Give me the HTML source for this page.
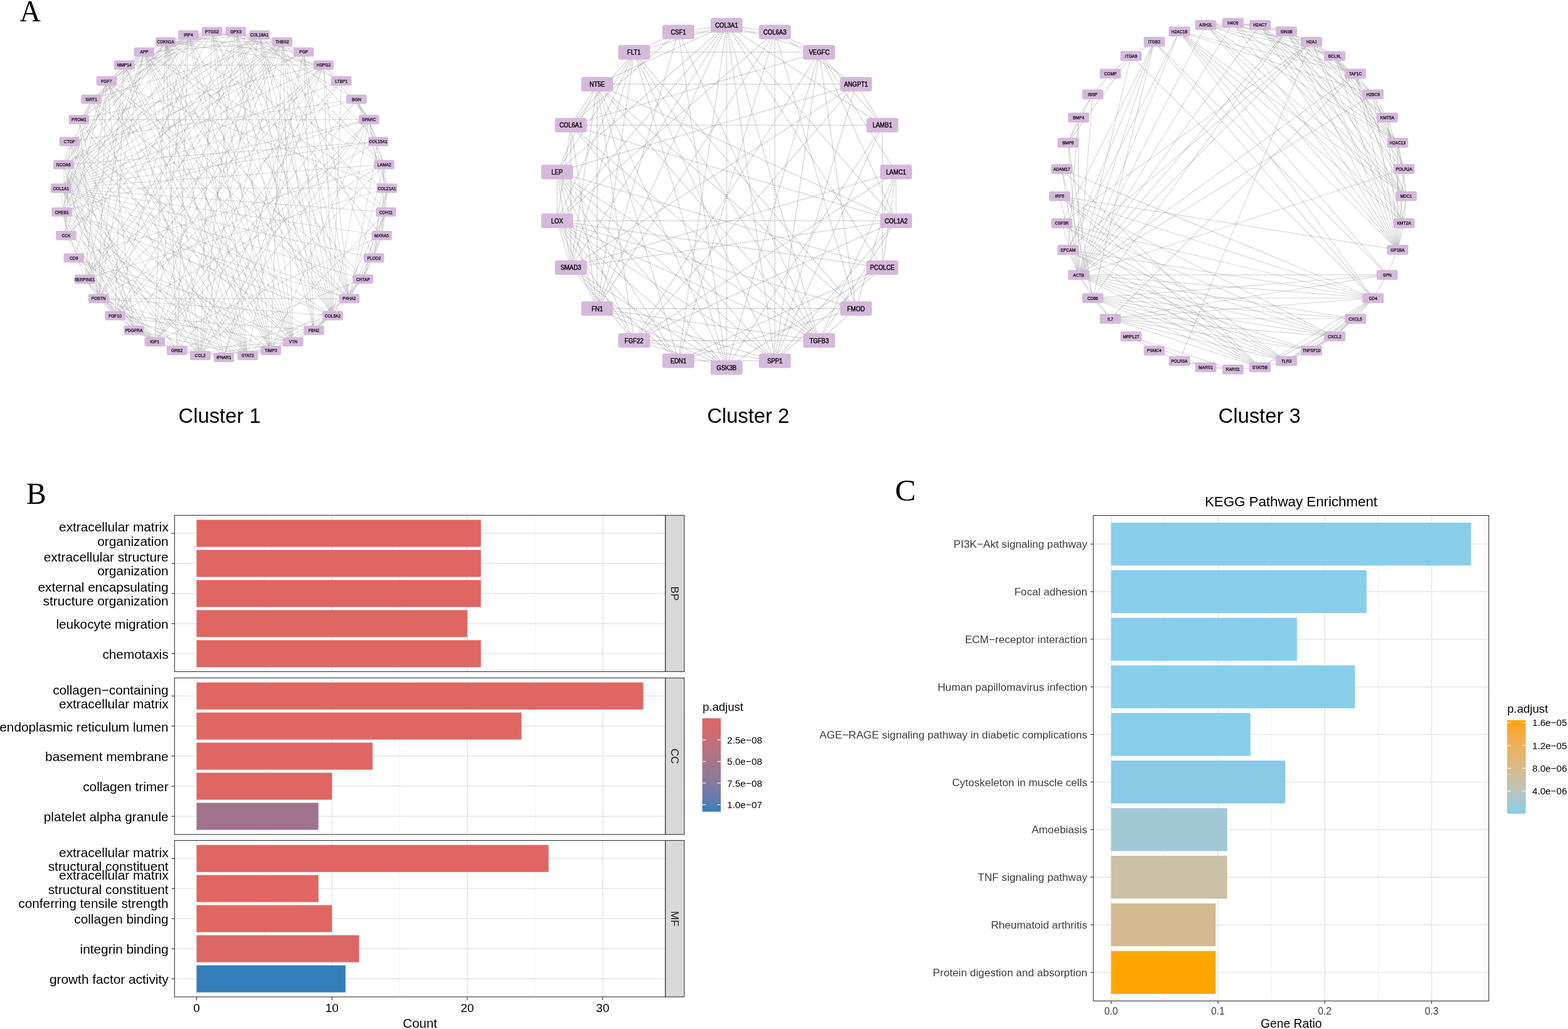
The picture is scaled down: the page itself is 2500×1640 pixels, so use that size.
<!DOCTYPE html><html><head><meta charset="utf-8"><title>Figure</title>
<style>html,body{margin:0;padding:0;background:#fff;}svg{display:block;}.s{font-family:"Liberation Sans",Arial,Helvetica,sans-serif;}.r{font-family:"Liberation Serif","Times New Roman",serif;}</style></head><body>
<svg width="2500" height="1640" viewBox="0 0 2500 1640">
<rect width="2500" height="1640" fill="#fff"/>
<text class="r" x="31.4" y="33.9" font-size="48.5" textLength="33.4" lengthAdjust="spacingAndGlyphs">A</text>
<text class="r" x="42.0" y="803.0" font-size="48.5" textLength="31.7" lengthAdjust="spacingAndGlyphs">B</text>
<text class="r" x="1427.1" y="798.0" font-size="48.5" textLength="33.2" lengthAdjust="spacingAndGlyphs">C</text>
<g stroke="#8a8a8a" stroke-width="1.2" stroke-opacity="0.27" fill="none">
<path d="M229.8 82.8L319.1 566.7"/>
<path d="M229.8 82.8L117.7 411.2"/>
<path d="M229.8 82.8L615.4 337.9"/>
<path d="M229.8 82.8L616.8 300.0"/>
<path d="M229.8 82.8L530.5 503.1"/>
<path d="M229.8 82.8L169.8 129.0"/>
<path d="M229.8 82.8L376.0 50.2"/>
<path d="M229.8 82.8L300.5 55.7"/>
<path d="M229.8 82.8L198.1 103.7"/>
<path d="M229.8 82.8L101.3 262.3"/>
<path d="M229.8 82.8L556.8 475.8"/>
<path d="M229.8 82.8L157.2 475.8"/>
<path d="M229.8 82.8L125.8 190.6"/>
<path d="M229.8 82.8L135.1 444.9"/>
<path d="M229.8 82.8L145.5 158.2"/>
<path d="M229.8 82.8L394.9 566.7"/>
<path d="M229.8 82.8L449.9 66.7"/>
<path d="M229.8 82.8L431.9 558.5"/>
<path d="M229.8 82.8L467.4 544.9"/>
<path d="M568.5 158.2L319.1 566.7"/>
<path d="M568.5 158.2L603.1 225.6"/>
<path d="M568.5 158.2L97.2 300.0"/>
<path d="M568.5 158.2L616.8 300.0"/>
<path d="M568.5 158.2L110.9 225.6"/>
<path d="M568.5 158.2L376.0 50.2"/>
<path d="M568.5 158.2L246.6 544.9"/>
<path d="M568.5 158.2L612.7 262.3"/>
<path d="M568.5 158.2L588.2 190.6"/>
<path d="M105.5 375.3L413.5 55.7"/>
<path d="M105.5 375.3L97.2 300.0"/>
<path d="M105.5 375.3L110.9 225.6"/>
<path d="M105.5 375.3L183.5 503.1"/>
<path d="M105.5 375.3L169.8 129.0"/>
<path d="M105.5 375.3L246.6 544.9"/>
<path d="M105.5 375.3L300.5 55.7"/>
<path d="M105.5 375.3L101.3 262.3"/>
<path d="M105.5 375.3L449.9 66.7"/>
<path d="M105.5 375.3L467.4 544.9"/>
<path d="M319.1 566.7L264.1 66.7"/>
<path d="M319.1 566.7L413.5 55.7"/>
<path d="M319.1 566.7L97.2 300.0"/>
<path d="M319.1 566.7L530.5 503.1"/>
<path d="M319.1 566.7L98.6 337.9"/>
<path d="M319.1 566.7L110.9 225.6"/>
<path d="M319.1 566.7L169.8 129.0"/>
<path d="M319.1 566.7L376.0 50.2"/>
<path d="M319.1 566.7L282.1 558.5"/>
<path d="M319.1 566.7L515.9 103.7"/>
<path d="M319.1 566.7L246.6 544.9"/>
<path d="M319.1 566.7L612.7 262.3"/>
<path d="M319.1 566.7L198.1 103.7"/>
<path d="M319.1 566.7L213.5 526.3"/>
<path d="M319.1 566.7L157.2 475.8"/>
<path d="M319.1 566.7L338.0 50.2"/>
<path d="M319.1 566.7L145.5 158.2"/>
<path d="M319.1 566.7L588.2 190.6"/>
<path d="M319.1 566.7L449.9 66.7"/>
<path d="M319.1 566.7L431.9 558.5"/>
<path d="M319.1 566.7L467.4 544.9"/>
<path d="M117.7 411.2L500.5 526.3"/>
<path d="M117.7 411.2L246.6 544.9"/>
<path d="M117.7 411.2L612.7 262.3"/>
<path d="M117.7 411.2L394.9 566.7"/>
<path d="M117.7 411.2L431.9 558.5"/>
<path d="M117.7 411.2L467.4 544.9"/>
<path d="M615.4 337.9L97.2 300.0"/>
<path d="M615.4 337.9L616.8 300.0"/>
<path d="M615.4 337.9L530.5 503.1"/>
<path d="M615.4 337.9L578.9 444.9"/>
<path d="M615.4 337.9L376.0 50.2"/>
<path d="M615.4 337.9L608.5 375.3"/>
<path d="M615.4 337.9L556.8 475.8"/>
<path d="M615.4 337.9L588.2 190.6"/>
<path d="M615.4 337.9L394.9 566.7"/>
<path d="M264.1 66.7L413.5 55.7"/>
<path d="M264.1 66.7L97.2 300.0"/>
<path d="M264.1 66.7L530.5 503.1"/>
<path d="M264.1 66.7L98.6 337.9"/>
<path d="M264.1 66.7L578.9 444.9"/>
<path d="M264.1 66.7L282.1 558.5"/>
<path d="M264.1 66.7L515.9 103.7"/>
<path d="M264.1 66.7L357.0 569.5"/>
<path d="M264.1 66.7L246.6 544.9"/>
<path d="M264.1 66.7L612.7 262.3"/>
<path d="M264.1 66.7L101.3 262.3"/>
<path d="M264.1 66.7L484.2 82.8"/>
<path d="M264.1 66.7L338.0 50.2"/>
<path d="M264.1 66.7L394.9 566.7"/>
<path d="M264.1 66.7L449.9 66.7"/>
<path d="M264.1 66.7L431.9 558.5"/>
<path d="M264.1 66.7L467.4 544.9"/>
<path d="M603.1 225.6L97.2 300.0"/>
<path d="M603.1 225.6L101.3 262.3"/>
<path d="M603.1 225.6L556.8 475.8"/>
<path d="M603.1 225.6L157.2 475.8"/>
<path d="M603.1 225.6L449.9 66.7"/>
<path d="M413.5 55.7L97.2 300.0"/>
<path d="M413.5 55.7L530.5 503.1"/>
<path d="M413.5 55.7L110.9 225.6"/>
<path d="M413.5 55.7L500.5 526.3"/>
<path d="M413.5 55.7L282.1 558.5"/>
<path d="M413.5 55.7L300.5 55.7"/>
<path d="M413.5 55.7L612.7 262.3"/>
<path d="M413.5 55.7L544.2 129.0"/>
<path d="M413.5 55.7L198.1 103.7"/>
<path d="M413.5 55.7L101.3 262.3"/>
<path d="M413.5 55.7L556.8 475.8"/>
<path d="M413.5 55.7L484.2 82.8"/>
<path d="M413.5 55.7L157.2 475.8"/>
<path d="M413.5 55.7L338.0 50.2"/>
<path d="M413.5 55.7L135.1 444.9"/>
<path d="M413.5 55.7L449.9 66.7"/>
<path d="M413.5 55.7L467.4 544.9"/>
<path d="M97.2 300.0L616.8 300.0"/>
<path d="M97.2 300.0L530.5 503.1"/>
<path d="M97.2 300.0L578.9 444.9"/>
<path d="M97.2 300.0L500.5 526.3"/>
<path d="M97.2 300.0L376.0 50.2"/>
<path d="M97.2 300.0L282.1 558.5"/>
<path d="M97.2 300.0L515.9 103.7"/>
<path d="M97.2 300.0L357.0 569.5"/>
<path d="M97.2 300.0L246.6 544.9"/>
<path d="M97.2 300.0L300.5 55.7"/>
<path d="M97.2 300.0L612.7 262.3"/>
<path d="M97.2 300.0L544.2 129.0"/>
<path d="M97.2 300.0L198.1 103.7"/>
<path d="M97.2 300.0L608.5 375.3"/>
<path d="M97.2 300.0L556.8 475.8"/>
<path d="M97.2 300.0L213.5 526.3"/>
<path d="M97.2 300.0L484.2 82.8"/>
<path d="M97.2 300.0L596.3 411.2"/>
<path d="M97.2 300.0L338.0 50.2"/>
<path d="M97.2 300.0L588.2 190.6"/>
<path d="M97.2 300.0L449.9 66.7"/>
<path d="M97.2 300.0L431.9 558.5"/>
<path d="M616.8 300.0L578.9 444.9"/>
<path d="M616.8 300.0L169.8 129.0"/>
<path d="M616.8 300.0L612.7 262.3"/>
<path d="M616.8 300.0L608.5 375.3"/>
<path d="M616.8 300.0L596.3 411.2"/>
<path d="M616.8 300.0L135.1 444.9"/>
<path d="M616.8 300.0L588.2 190.6"/>
<path d="M530.5 503.1L98.6 337.9"/>
<path d="M530.5 503.1L110.9 225.6"/>
<path d="M530.5 503.1L500.5 526.3"/>
<path d="M530.5 503.1L376.0 50.2"/>
<path d="M530.5 503.1L515.9 103.7"/>
<path d="M530.5 503.1L300.5 55.7"/>
<path d="M530.5 503.1L544.2 129.0"/>
<path d="M530.5 503.1L484.2 82.8"/>
<path d="M530.5 503.1L157.2 475.8"/>
<path d="M530.5 503.1L338.0 50.2"/>
<path d="M530.5 503.1L588.2 190.6"/>
<path d="M530.5 503.1L394.9 566.7"/>
<path d="M530.5 503.1L449.9 66.7"/>
<path d="M530.5 503.1L431.9 558.5"/>
<path d="M530.5 503.1L467.4 544.9"/>
<path d="M98.6 337.9L183.5 503.1"/>
<path d="M98.6 337.9L169.8 129.0"/>
<path d="M98.6 337.9L246.6 544.9"/>
<path d="M98.6 337.9L556.8 475.8"/>
<path d="M98.6 337.9L135.1 444.9"/>
<path d="M98.6 337.9L145.5 158.2"/>
<path d="M98.6 337.9L588.2 190.6"/>
<path d="M98.6 337.9L394.9 566.7"/>
<path d="M98.6 337.9L449.9 66.7"/>
<path d="M578.9 444.9L500.5 526.3"/>
<path d="M578.9 444.9L169.8 129.0"/>
<path d="M578.9 444.9L282.1 558.5"/>
<path d="M578.9 444.9L608.5 375.3"/>
<path d="M578.9 444.9L467.4 544.9"/>
<path d="M110.9 225.6L246.6 544.9"/>
<path d="M110.9 225.6L300.5 55.7"/>
<path d="M110.9 225.6L101.3 262.3"/>
<path d="M110.9 225.6L213.5 526.3"/>
<path d="M110.9 225.6L157.2 475.8"/>
<path d="M110.9 225.6L394.9 566.7"/>
<path d="M110.9 225.6L467.4 544.9"/>
<path d="M500.5 526.3L183.5 503.1"/>
<path d="M500.5 526.3L376.0 50.2"/>
<path d="M500.5 526.3L556.8 475.8"/>
<path d="M500.5 526.3L484.2 82.8"/>
<path d="M500.5 526.3L449.9 66.7"/>
<path d="M500.5 526.3L467.4 544.9"/>
<path d="M183.5 503.1L515.9 103.7"/>
<path d="M183.5 503.1L246.6 544.9"/>
<path d="M183.5 503.1L300.5 55.7"/>
<path d="M183.5 503.1L612.7 262.3"/>
<path d="M183.5 503.1L544.2 129.0"/>
<path d="M183.5 503.1L198.1 103.7"/>
<path d="M183.5 503.1L101.3 262.3"/>
<path d="M183.5 503.1L157.2 475.8"/>
<path d="M183.5 503.1L135.1 444.9"/>
<path d="M183.5 503.1L394.9 566.7"/>
<path d="M183.5 503.1L449.9 66.7"/>
<path d="M183.5 503.1L467.4 544.9"/>
<path d="M169.8 129.0L357.0 569.5"/>
<path d="M169.8 129.0L300.5 55.7"/>
<path d="M169.8 129.0L556.8 475.8"/>
<path d="M169.8 129.0L213.5 526.3"/>
<path d="M169.8 129.0L157.2 475.8"/>
<path d="M169.8 129.0L338.0 50.2"/>
<path d="M169.8 129.0L135.1 444.9"/>
<path d="M169.8 129.0L394.9 566.7"/>
<path d="M169.8 129.0L431.9 558.5"/>
<path d="M169.8 129.0L467.4 544.9"/>
<path d="M376.0 50.2L246.6 544.9"/>
<path d="M376.0 50.2L612.7 262.3"/>
<path d="M376.0 50.2L544.2 129.0"/>
<path d="M376.0 50.2L556.8 475.8"/>
<path d="M376.0 50.2L157.2 475.8"/>
<path d="M376.0 50.2L431.9 558.5"/>
<path d="M376.0 50.2L467.4 544.9"/>
<path d="M282.1 558.5L300.5 55.7"/>
<path d="M282.1 558.5L101.3 262.3"/>
<path d="M282.1 558.5L213.5 526.3"/>
<path d="M282.1 558.5L588.2 190.6"/>
<path d="M282.1 558.5L467.4 544.9"/>
<path d="M515.9 103.7L357.0 569.5"/>
<path d="M515.9 103.7L246.6 544.9"/>
<path d="M515.9 103.7L300.5 55.7"/>
<path d="M515.9 103.7L544.2 129.0"/>
<path d="M515.9 103.7L198.1 103.7"/>
<path d="M515.9 103.7L556.8 475.8"/>
<path d="M515.9 103.7L157.2 475.8"/>
<path d="M515.9 103.7L125.8 190.6"/>
<path d="M515.9 103.7L135.1 444.9"/>
<path d="M515.9 103.7L588.2 190.6"/>
<path d="M357.0 569.5L484.2 82.8"/>
<path d="M246.6 544.9L300.5 55.7"/>
<path d="M246.6 544.9L544.2 129.0"/>
<path d="M246.6 544.9L608.5 375.3"/>
<path d="M246.6 544.9L213.5 526.3"/>
<path d="M246.6 544.9L157.2 475.8"/>
<path d="M246.6 544.9L135.1 444.9"/>
<path d="M246.6 544.9L588.2 190.6"/>
<path d="M246.6 544.9L449.9 66.7"/>
<path d="M300.5 55.7L125.8 190.6"/>
<path d="M300.5 55.7L338.0 50.2"/>
<path d="M300.5 55.7L145.5 158.2"/>
<path d="M300.5 55.7L394.9 566.7"/>
<path d="M300.5 55.7L431.9 558.5"/>
<path d="M300.5 55.7L467.4 544.9"/>
<path d="M612.7 262.3L608.5 375.3"/>
<path d="M612.7 262.3L556.8 475.8"/>
<path d="M612.7 262.3L596.3 411.2"/>
<path d="M612.7 262.3L588.2 190.6"/>
<path d="M544.2 129.0L588.2 190.6"/>
<path d="M198.1 103.7L157.2 475.8"/>
<path d="M198.1 103.7L125.8 190.6"/>
<path d="M198.1 103.7L338.0 50.2"/>
<path d="M198.1 103.7L394.9 566.7"/>
<path d="M198.1 103.7L431.9 558.5"/>
<path d="M198.1 103.7L467.4 544.9"/>
<path d="M608.5 375.3L556.8 475.8"/>
<path d="M608.5 375.3L596.3 411.2"/>
<path d="M608.5 375.3L338.0 50.2"/>
<path d="M101.3 262.3L484.2 82.8"/>
<path d="M101.3 262.3L157.2 475.8"/>
<path d="M101.3 262.3L145.5 158.2"/>
<path d="M101.3 262.3L394.9 566.7"/>
<path d="M101.3 262.3L449.9 66.7"/>
<path d="M556.8 475.8L484.2 82.8"/>
<path d="M556.8 475.8L596.3 411.2"/>
<path d="M556.8 475.8L157.2 475.8"/>
<path d="M556.8 475.8L338.0 50.2"/>
<path d="M556.8 475.8L145.5 158.2"/>
<path d="M556.8 475.8L394.9 566.7"/>
<path d="M556.8 475.8L449.9 66.7"/>
<path d="M213.5 526.3L125.8 190.6"/>
<path d="M213.5 526.3L135.1 444.9"/>
<path d="M213.5 526.3L394.9 566.7"/>
<path d="M213.5 526.3L449.9 66.7"/>
<path d="M484.2 82.8L338.0 50.2"/>
<path d="M484.2 82.8L394.9 566.7"/>
<path d="M484.2 82.8L449.9 66.7"/>
<path d="M596.3 411.2L449.9 66.7"/>
<path d="M157.2 475.8L125.8 190.6"/>
<path d="M157.2 475.8L135.1 444.9"/>
<path d="M157.2 475.8L394.9 566.7"/>
<path d="M157.2 475.8L449.9 66.7"/>
<path d="M157.2 475.8L431.9 558.5"/>
<path d="M125.8 190.6L338.0 50.2"/>
<path d="M125.8 190.6L588.2 190.6"/>
<path d="M125.8 190.6L394.9 566.7"/>
<path d="M125.8 190.6L467.4 544.9"/>
<path d="M338.0 50.2L135.1 444.9"/>
<path d="M338.0 50.2L145.5 158.2"/>
<path d="M338.0 50.2L394.9 566.7"/>
<path d="M338.0 50.2L431.9 558.5"/>
<path d="M338.0 50.2L467.4 544.9"/>
<path d="M135.1 444.9L449.9 66.7"/>
<path d="M145.5 158.2L394.9 566.7"/>
<path d="M145.5 158.2L449.9 66.7"/>
<path d="M588.2 190.6L431.9 558.5"/>
<path d="M394.9 566.7L431.9 558.5"/>
<path d="M394.9 566.7L467.4 544.9"/>
<path d="M449.9 66.7L431.9 558.5"/>
<path d="M449.9 66.7L467.4 544.9"/>
<path d="M431.9 558.5L467.4 544.9"/>
</g>
<g>
<rect x="359.7" y="42.8" width="32.5" height="14.8" rx="2.5" fill="#d5b9dc"/>
<rect x="397.3" y="48.3" width="32.5" height="14.8" rx="2.5" fill="#d5b9dc"/>
<rect x="433.6" y="59.3" width="32.5" height="14.8" rx="2.5" fill="#d5b9dc"/>
<rect x="468.0" y="75.4" width="32.5" height="14.8" rx="2.5" fill="#d5b9dc"/>
<rect x="499.7" y="96.3" width="32.5" height="14.8" rx="2.5" fill="#d5b9dc"/>
<rect x="527.9" y="121.6" width="32.5" height="14.8" rx="2.5" fill="#d5b9dc"/>
<rect x="552.2" y="150.8" width="32.5" height="14.8" rx="2.5" fill="#d5b9dc"/>
<rect x="572.0" y="183.2" width="32.5" height="14.8" rx="2.5" fill="#d5b9dc"/>
<rect x="586.8" y="218.2" width="32.5" height="14.8" rx="2.5" fill="#d5b9dc"/>
<rect x="596.4" y="254.9" width="32.5" height="14.8" rx="2.5" fill="#d5b9dc"/>
<rect x="600.6" y="292.6" width="32.5" height="14.8" rx="2.5" fill="#d5b9dc"/>
<rect x="599.2" y="330.5" width="32.5" height="14.8" rx="2.5" fill="#d5b9dc"/>
<rect x="592.3" y="367.9" width="32.5" height="14.8" rx="2.5" fill="#d5b9dc"/>
<rect x="580.0" y="403.8" width="32.5" height="14.8" rx="2.5" fill="#d5b9dc"/>
<rect x="562.7" y="437.5" width="32.5" height="14.8" rx="2.5" fill="#d5b9dc"/>
<rect x="540.6" y="468.4" width="32.5" height="14.8" rx="2.5" fill="#d5b9dc"/>
<rect x="514.3" y="495.7" width="32.5" height="14.8" rx="2.5" fill="#d5b9dc"/>
<rect x="484.2" y="518.9" width="32.5" height="14.8" rx="2.5" fill="#d5b9dc"/>
<rect x="451.1" y="537.5" width="32.5" height="14.8" rx="2.5" fill="#d5b9dc"/>
<rect x="415.7" y="551.1" width="32.5" height="14.8" rx="2.5" fill="#d5b9dc"/>
<rect x="378.6" y="559.3" width="32.5" height="14.8" rx="2.5" fill="#d5b9dc"/>
<rect x="340.8" y="562.1" width="32.5" height="14.8" rx="2.5" fill="#d5b9dc"/>
<rect x="302.9" y="559.3" width="32.5" height="14.8" rx="2.5" fill="#d5b9dc"/>
<rect x="265.8" y="551.1" width="32.5" height="14.8" rx="2.5" fill="#d5b9dc"/>
<rect x="230.4" y="537.5" width="32.5" height="14.8" rx="2.5" fill="#d5b9dc"/>
<rect x="197.3" y="518.9" width="32.5" height="14.8" rx="2.5" fill="#d5b9dc"/>
<rect x="167.2" y="495.7" width="32.5" height="14.8" rx="2.5" fill="#d5b9dc"/>
<rect x="140.9" y="468.4" width="32.5" height="14.8" rx="2.5" fill="#d5b9dc"/>
<rect x="118.8" y="437.5" width="32.5" height="14.8" rx="2.5" fill="#d5b9dc"/>
<rect x="101.5" y="403.8" width="32.5" height="14.8" rx="2.5" fill="#d5b9dc"/>
<rect x="89.2" y="367.9" width="32.5" height="14.8" rx="2.5" fill="#d5b9dc"/>
<rect x="82.3" y="330.5" width="32.5" height="14.8" rx="2.5" fill="#d5b9dc"/>
<rect x="80.9" y="292.6" width="32.5" height="14.8" rx="2.5" fill="#d5b9dc"/>
<rect x="85.1" y="254.9" width="32.5" height="14.8" rx="2.5" fill="#d5b9dc"/>
<rect x="94.7" y="218.2" width="32.5" height="14.8" rx="2.5" fill="#d5b9dc"/>
<rect x="109.5" y="183.2" width="32.5" height="14.8" rx="2.5" fill="#d5b9dc"/>
<rect x="129.3" y="150.8" width="32.5" height="14.8" rx="2.5" fill="#d5b9dc"/>
<rect x="153.6" y="121.6" width="32.5" height="14.8" rx="2.5" fill="#d5b9dc"/>
<rect x="181.8" y="96.3" width="32.5" height="14.8" rx="2.5" fill="#d5b9dc"/>
<rect x="213.5" y="75.4" width="32.5" height="14.8" rx="2.5" fill="#d5b9dc"/>
<rect x="247.9" y="59.3" width="32.5" height="14.8" rx="2.5" fill="#d5b9dc"/>
<rect x="284.2" y="48.3" width="32.5" height="14.8" rx="2.5" fill="#d5b9dc"/>
<rect x="321.8" y="42.8" width="32.5" height="14.8" rx="2.5" fill="#d5b9dc"/>
<text class="s" x="376.0" y="52.7" font-size="7.0" fill="#000" stroke="#000" stroke-width="0.25" text-anchor="middle" textLength="17.7" lengthAdjust="spacingAndGlyphs">GPX3</text>
<text class="s" x="413.5" y="58.2" font-size="7.0" fill="#000" stroke="#000" stroke-width="0.25" text-anchor="middle" textLength="29.2" lengthAdjust="spacingAndGlyphs">COL18A1</text>
<text class="s" x="449.9" y="69.2" font-size="7.0" fill="#000" stroke="#000" stroke-width="0.25" text-anchor="middle" textLength="21.4" lengthAdjust="spacingAndGlyphs">THBS2</text>
<text class="s" x="484.2" y="85.3" font-size="7.0" fill="#000" stroke="#000" stroke-width="0.25" text-anchor="middle" textLength="13.7" lengthAdjust="spacingAndGlyphs">PGF</text>
<text class="s" x="515.9" y="106.2" font-size="7.0" fill="#000" stroke="#000" stroke-width="0.25" text-anchor="middle" textLength="22.5" lengthAdjust="spacingAndGlyphs">HSPG2</text>
<text class="s" x="544.2" y="131.6" font-size="7.0" fill="#000" stroke="#000" stroke-width="0.25" text-anchor="middle" textLength="19.8" lengthAdjust="spacingAndGlyphs">LTBP1</text>
<text class="s" x="568.5" y="160.7" font-size="7.0" fill="#000" stroke="#000" stroke-width="0.25" text-anchor="middle" textLength="14.4" lengthAdjust="spacingAndGlyphs">BGN</text>
<text class="s" x="588.2" y="193.1" font-size="7.0" fill="#000" stroke="#000" stroke-width="0.25" text-anchor="middle" textLength="22.4" lengthAdjust="spacingAndGlyphs">SPARC</text>
<text class="s" x="603.1" y="228.1" font-size="7.0" fill="#000" stroke="#000" stroke-width="0.25" text-anchor="middle" textLength="29.2" lengthAdjust="spacingAndGlyphs">COL15A1</text>
<text class="s" x="612.7" y="264.8" font-size="7.0" fill="#000" stroke="#000" stroke-width="0.25" text-anchor="middle" textLength="21.8" lengthAdjust="spacingAndGlyphs">LAMA2</text>
<text class="s" x="616.8" y="302.5" font-size="7.0" fill="#000" stroke="#000" stroke-width="0.25" text-anchor="middle" textLength="29.2" lengthAdjust="spacingAndGlyphs">COL21A1</text>
<text class="s" x="615.4" y="340.5" font-size="7.0" fill="#000" stroke="#000" stroke-width="0.25" text-anchor="middle" textLength="21.3" lengthAdjust="spacingAndGlyphs">CDH11</text>
<text class="s" x="608.5" y="377.8" font-size="7.0" fill="#000" stroke="#000" stroke-width="0.25" text-anchor="middle" textLength="22.9" lengthAdjust="spacingAndGlyphs">MXRA5</text>
<text class="s" x="596.3" y="413.7" font-size="7.0" fill="#000" stroke="#000" stroke-width="0.25" text-anchor="middle" textLength="21.8" lengthAdjust="spacingAndGlyphs">PLOD2</text>
<text class="s" x="578.9" y="447.5" font-size="7.0" fill="#000" stroke="#000" stroke-width="0.25" text-anchor="middle" textLength="21.9" lengthAdjust="spacingAndGlyphs">CRTAP</text>
<text class="s" x="556.8" y="478.3" font-size="7.0" fill="#000" stroke="#000" stroke-width="0.25" text-anchor="middle" textLength="21.1" lengthAdjust="spacingAndGlyphs">P4HA2</text>
<text class="s" x="530.5" y="505.7" font-size="7.0" fill="#000" stroke="#000" stroke-width="0.25" text-anchor="middle" textLength="25.5" lengthAdjust="spacingAndGlyphs">COL5A2</text>
<text class="s" x="500.5" y="528.9" font-size="7.0" fill="#000" stroke="#000" stroke-width="0.25" text-anchor="middle" textLength="17.0" lengthAdjust="spacingAndGlyphs">FBN2</text>
<text class="s" x="467.4" y="547.4" font-size="7.0" fill="#000" stroke="#000" stroke-width="0.25" text-anchor="middle" textLength="13.3" lengthAdjust="spacingAndGlyphs">VTN</text>
<text class="s" x="431.9" y="561.0" font-size="7.0" fill="#000" stroke="#000" stroke-width="0.25" text-anchor="middle" textLength="19.6" lengthAdjust="spacingAndGlyphs">TIMP3</text>
<text class="s" x="394.9" y="569.2" font-size="7.0" fill="#000" stroke="#000" stroke-width="0.25" text-anchor="middle" textLength="19.7" lengthAdjust="spacingAndGlyphs">STAT3</text>
<text class="s" x="357.0" y="572.0" font-size="7.0" fill="#000" stroke="#000" stroke-width="0.25" text-anchor="middle" textLength="23.6" lengthAdjust="spacingAndGlyphs">IFNAR1</text>
<text class="s" x="319.1" y="569.2" font-size="7.0" fill="#000" stroke="#000" stroke-width="0.25" text-anchor="middle" textLength="17.0" lengthAdjust="spacingAndGlyphs">CCL2</text>
<text class="s" x="282.1" y="561.0" font-size="7.0" fill="#000" stroke="#000" stroke-width="0.25" text-anchor="middle" textLength="18.1" lengthAdjust="spacingAndGlyphs">GRB2</text>
<text class="s" x="246.6" y="547.4" font-size="7.0" fill="#000" stroke="#000" stroke-width="0.25" text-anchor="middle" textLength="14.8" lengthAdjust="spacingAndGlyphs">IGF1</text>
<text class="s" x="213.5" y="528.9" font-size="7.0" fill="#000" stroke="#000" stroke-width="0.25" text-anchor="middle" textLength="27.7" lengthAdjust="spacingAndGlyphs">PDGFRA</text>
<text class="s" x="183.5" y="505.7" font-size="7.0" fill="#000" stroke="#000" stroke-width="0.25" text-anchor="middle" textLength="20.7" lengthAdjust="spacingAndGlyphs">FGF10</text>
<text class="s" x="157.2" y="478.3" font-size="7.0" fill="#000" stroke="#000" stroke-width="0.25" text-anchor="middle" textLength="22.9" lengthAdjust="spacingAndGlyphs">POSTN</text>
<text class="s" x="135.1" y="447.5" font-size="7.0" fill="#000" stroke="#000" stroke-width="0.25" text-anchor="middle" textLength="32.9" lengthAdjust="spacingAndGlyphs">SERPINE1</text>
<text class="s" x="117.7" y="413.7" font-size="7.0" fill="#000" stroke="#000" stroke-width="0.25" text-anchor="middle" textLength="13.3" lengthAdjust="spacingAndGlyphs">CD9</text>
<text class="s" x="105.5" y="377.8" font-size="7.0" fill="#000" stroke="#000" stroke-width="0.25" text-anchor="middle" textLength="14.0" lengthAdjust="spacingAndGlyphs">CCK</text>
<text class="s" x="98.6" y="340.5" font-size="7.0" fill="#000" stroke="#000" stroke-width="0.25" text-anchor="middle" textLength="22.2" lengthAdjust="spacingAndGlyphs">CREB1</text>
<text class="s" x="97.2" y="302.5" font-size="7.0" fill="#000" stroke="#000" stroke-width="0.25" text-anchor="middle" textLength="25.5" lengthAdjust="spacingAndGlyphs">COL1A1</text>
<text class="s" x="101.3" y="264.8" font-size="7.0" fill="#000" stroke="#000" stroke-width="0.25" text-anchor="middle" textLength="22.9" lengthAdjust="spacingAndGlyphs">NCOA6</text>
<text class="s" x="110.9" y="228.1" font-size="7.0" fill="#000" stroke="#000" stroke-width="0.25" text-anchor="middle" textLength="18.1" lengthAdjust="spacingAndGlyphs">CTGF</text>
<text class="s" x="125.8" y="193.1" font-size="7.0" fill="#000" stroke="#000" stroke-width="0.25" text-anchor="middle" textLength="23.6" lengthAdjust="spacingAndGlyphs">PROM1</text>
<text class="s" x="145.5" y="160.7" font-size="7.0" fill="#000" stroke="#000" stroke-width="0.25" text-anchor="middle" textLength="18.7" lengthAdjust="spacingAndGlyphs">SIRT1</text>
<text class="s" x="169.8" y="131.6" font-size="7.0" fill="#000" stroke="#000" stroke-width="0.25" text-anchor="middle" textLength="17.0" lengthAdjust="spacingAndGlyphs">FGF7</text>
<text class="s" x="198.1" y="106.2" font-size="7.0" fill="#000" stroke="#000" stroke-width="0.25" text-anchor="middle" textLength="22.9" lengthAdjust="spacingAndGlyphs">MMP14</text>
<text class="s" x="229.8" y="85.3" font-size="7.0" fill="#000" stroke="#000" stroke-width="0.25" text-anchor="middle" textLength="13.3" lengthAdjust="spacingAndGlyphs">APP</text>
<text class="s" x="264.1" y="69.2" font-size="7.0" fill="#000" stroke="#000" stroke-width="0.25" text-anchor="middle" textLength="27.0" lengthAdjust="spacingAndGlyphs">CDKN1A</text>
<text class="s" x="300.5" y="58.2" font-size="7.0" fill="#000" stroke="#000" stroke-width="0.25" text-anchor="middle" textLength="14.4" lengthAdjust="spacingAndGlyphs">IRF4</text>
<text class="s" x="338.0" y="52.7" font-size="7.0" fill="#000" stroke="#000" stroke-width="0.25" text-anchor="middle" textLength="21.8" lengthAdjust="spacingAndGlyphs">PTGS2</text>
</g>
<g stroke="#808080" stroke-width="1.9" stroke-opacity="0.34" fill="none" stroke-dasharray="2.2 1">
<path d="M1364.8 134.2L1235.4 51.1"/>
<path d="M1364.8 134.2L1010.9 542.7"/>
<path d="M1364.8 134.2L1406.8 199.6"/>
<path d="M1364.8 134.2L888.3 274.1"/>
<path d="M1364.8 134.2L952.2 134.2"/>
<path d="M1364.8 134.2L910.2 426.4"/>
<path d="M1364.8 134.2L1235.4 574.9"/>
<path d="M1428.7 351.9L1158.5 40.0"/>
<path d="M1428.7 351.9L910.2 199.6"/>
<path d="M1428.7 351.9L1010.9 542.7"/>
<path d="M1428.7 351.9L1428.7 274.1"/>
<path d="M1428.7 351.9L888.3 351.9"/>
<path d="M1428.7 351.9L952.2 134.2"/>
<path d="M1428.7 351.9L910.2 426.4"/>
<path d="M1428.7 351.9L1235.4 574.9"/>
<path d="M1428.7 351.9L1306.1 542.7"/>
<path d="M1428.7 351.9L1306.1 83.3"/>
<path d="M1158.5 40.0L1235.4 51.1"/>
<path d="M1158.5 40.0L1081.6 51.1"/>
<path d="M1158.5 40.0L1081.6 574.9"/>
<path d="M1158.5 40.0L1010.9 83.3"/>
<path d="M1158.5 40.0L952.2 491.8"/>
<path d="M1158.5 40.0L1158.5 586.0"/>
<path d="M1158.5 40.0L1406.8 199.6"/>
<path d="M1158.5 40.0L888.3 274.1"/>
<path d="M1158.5 40.0L888.3 351.9"/>
<path d="M1158.5 40.0L952.2 134.2"/>
<path d="M1158.5 40.0L1406.8 426.4"/>
<path d="M1158.5 40.0L910.2 426.4"/>
<path d="M1158.5 40.0L1235.4 574.9"/>
<path d="M1158.5 40.0L1306.1 542.7"/>
<path d="M1158.5 40.0L1306.1 83.3"/>
<path d="M910.2 199.6L1081.6 51.1"/>
<path d="M910.2 199.6L1010.9 83.3"/>
<path d="M910.2 199.6L952.2 491.8"/>
<path d="M910.2 199.6L1406.8 199.6"/>
<path d="M910.2 199.6L888.3 351.9"/>
<path d="M910.2 199.6L952.2 134.2"/>
<path d="M910.2 199.6L910.2 426.4"/>
<path d="M910.2 199.6L1235.4 574.9"/>
<path d="M910.2 199.6L1306.1 542.7"/>
<path d="M910.2 199.6L1306.1 83.3"/>
<path d="M1235.4 51.1L1081.6 51.1"/>
<path d="M1235.4 51.1L1081.6 574.9"/>
<path d="M1235.4 51.1L1364.8 491.8"/>
<path d="M1235.4 51.1L952.2 491.8"/>
<path d="M1235.4 51.1L888.3 351.9"/>
<path d="M1235.4 51.1L1235.4 574.9"/>
<path d="M1235.4 51.1L1306.1 83.3"/>
<path d="M1081.6 51.1L1010.9 83.3"/>
<path d="M1081.6 51.1L952.2 491.8"/>
<path d="M1081.6 51.1L1158.5 586.0"/>
<path d="M1081.6 51.1L1306.1 542.7"/>
<path d="M1081.6 574.9L1364.8 491.8"/>
<path d="M1081.6 574.9L888.3 274.1"/>
<path d="M1081.6 574.9L888.3 351.9"/>
<path d="M1081.6 574.9L952.2 134.2"/>
<path d="M1081.6 574.9L1406.8 426.4"/>
<path d="M1081.6 574.9L910.2 426.4"/>
<path d="M1081.6 574.9L1235.4 574.9"/>
<path d="M1010.9 542.7L1158.5 586.0"/>
<path d="M1010.9 542.7L1428.7 274.1"/>
<path d="M1010.9 542.7L888.3 274.1"/>
<path d="M1010.9 542.7L888.3 351.9"/>
<path d="M1010.9 542.7L952.2 134.2"/>
<path d="M1010.9 542.7L910.2 426.4"/>
<path d="M1010.9 542.7L1235.4 574.9"/>
<path d="M1010.9 542.7L1306.1 542.7"/>
<path d="M1010.9 542.7L1306.1 83.3"/>
<path d="M1010.9 83.3L1364.8 491.8"/>
<path d="M1010.9 83.3L952.2 491.8"/>
<path d="M1010.9 83.3L1158.5 586.0"/>
<path d="M1010.9 83.3L888.3 274.1"/>
<path d="M1010.9 83.3L888.3 351.9"/>
<path d="M1010.9 83.3L910.2 426.4"/>
<path d="M1010.9 83.3L1235.4 574.9"/>
<path d="M1010.9 83.3L1306.1 542.7"/>
<path d="M1010.9 83.3L1306.1 83.3"/>
<path d="M1364.8 491.8L952.2 491.8"/>
<path d="M1364.8 491.8L1428.7 274.1"/>
<path d="M1364.8 491.8L888.3 351.9"/>
<path d="M1364.8 491.8L952.2 134.2"/>
<path d="M1364.8 491.8L1306.1 542.7"/>
<path d="M1364.8 491.8L1306.1 83.3"/>
<path d="M952.2 491.8L1158.5 586.0"/>
<path d="M952.2 491.8L888.3 274.1"/>
<path d="M952.2 491.8L888.3 351.9"/>
<path d="M952.2 491.8L952.2 134.2"/>
<path d="M952.2 491.8L1235.4 574.9"/>
<path d="M952.2 491.8L1306.1 542.7"/>
<path d="M1158.5 586.0L1406.8 199.6"/>
<path d="M1158.5 586.0L888.3 274.1"/>
<path d="M1158.5 586.0L888.3 351.9"/>
<path d="M1158.5 586.0L952.2 134.2"/>
<path d="M1158.5 586.0L1406.8 426.4"/>
<path d="M1158.5 586.0L910.2 426.4"/>
<path d="M1158.5 586.0L1306.1 83.3"/>
<path d="M1406.8 199.6L1406.8 426.4"/>
<path d="M1406.8 199.6L1235.4 574.9"/>
<path d="M1406.8 199.6L1306.1 83.3"/>
<path d="M1428.7 274.1L1406.8 426.4"/>
<path d="M1428.7 274.1L910.2 426.4"/>
<path d="M1428.7 274.1L1306.1 542.7"/>
<path d="M1428.7 274.1L1306.1 83.3"/>
<path d="M888.3 274.1L888.3 351.9"/>
<path d="M888.3 274.1L952.2 134.2"/>
<path d="M888.3 274.1L1406.8 426.4"/>
<path d="M888.3 274.1L910.2 426.4"/>
<path d="M888.3 274.1L1235.4 574.9"/>
<path d="M888.3 274.1L1306.1 542.7"/>
<path d="M888.3 351.9L1406.8 426.4"/>
<path d="M888.3 351.9L910.2 426.4"/>
<path d="M888.3 351.9L1235.4 574.9"/>
<path d="M888.3 351.9L1306.1 542.7"/>
<path d="M952.2 134.2L910.2 426.4"/>
<path d="M952.2 134.2L1306.1 542.7"/>
<path d="M1406.8 426.4L1235.4 574.9"/>
<path d="M1235.4 574.9L1306.1 83.3"/>
</g>
<g>
<rect x="1133.0" y="28.4" width="50.9" height="23.1" rx="3.5" fill="#d5b9dc"/>
<rect x="1210.0" y="39.5" width="50.9" height="23.1" rx="3.5" fill="#d5b9dc"/>
<rect x="1280.6" y="71.8" width="50.9" height="23.1" rx="3.5" fill="#d5b9dc"/>
<rect x="1339.4" y="122.7" width="50.9" height="23.1" rx="3.5" fill="#d5b9dc"/>
<rect x="1381.4" y="188.0" width="50.9" height="23.1" rx="3.5" fill="#d5b9dc"/>
<rect x="1403.3" y="262.6" width="50.9" height="23.1" rx="3.5" fill="#d5b9dc"/>
<rect x="1403.3" y="340.3" width="50.9" height="23.1" rx="3.5" fill="#d5b9dc"/>
<rect x="1381.4" y="414.9" width="50.9" height="23.1" rx="3.5" fill="#d5b9dc"/>
<rect x="1339.4" y="480.2" width="50.9" height="23.1" rx="3.5" fill="#d5b9dc"/>
<rect x="1280.6" y="531.1" width="50.9" height="23.1" rx="3.5" fill="#d5b9dc"/>
<rect x="1210.0" y="563.4" width="50.9" height="23.1" rx="3.5" fill="#d5b9dc"/>
<rect x="1133.0" y="574.5" width="50.9" height="23.1" rx="3.5" fill="#d5b9dc"/>
<rect x="1056.1" y="563.4" width="50.9" height="23.1" rx="3.5" fill="#d5b9dc"/>
<rect x="985.5" y="531.1" width="50.9" height="23.1" rx="3.5" fill="#d5b9dc"/>
<rect x="926.7" y="480.2" width="50.9" height="23.1" rx="3.5" fill="#d5b9dc"/>
<rect x="884.7" y="414.9" width="50.9" height="23.1" rx="3.5" fill="#d5b9dc"/>
<rect x="862.8" y="340.3" width="50.9" height="23.1" rx="3.5" fill="#d5b9dc"/>
<rect x="862.8" y="262.6" width="50.9" height="23.1" rx="3.5" fill="#d5b9dc"/>
<rect x="884.7" y="188.0" width="50.9" height="23.1" rx="3.5" fill="#d5b9dc"/>
<rect x="926.7" y="122.7" width="50.9" height="23.1" rx="3.5" fill="#d5b9dc"/>
<rect x="985.5" y="71.8" width="50.9" height="23.1" rx="3.5" fill="#d5b9dc"/>
<rect x="1056.1" y="39.5" width="50.9" height="23.1" rx="3.5" fill="#d5b9dc"/>
<text class="s" x="1158.5" y="43.8" font-size="10.6" fill="#000" stroke="#000" stroke-width="0.4" text-anchor="middle" textLength="36.6" lengthAdjust="spacingAndGlyphs">COL3A1</text>
<text class="s" x="1235.4" y="54.9" font-size="10.6" fill="#000" stroke="#000" stroke-width="0.4" text-anchor="middle" textLength="36.6" lengthAdjust="spacingAndGlyphs">COL6A3</text>
<text class="s" x="1306.1" y="87.2" font-size="10.6" fill="#000" stroke="#000" stroke-width="0.4" text-anchor="middle" textLength="32.9" lengthAdjust="spacingAndGlyphs">VEGFC</text>
<text class="s" x="1364.8" y="138.0" font-size="10.6" fill="#000" stroke="#000" stroke-width="0.4" text-anchor="middle" textLength="38.2" lengthAdjust="spacingAndGlyphs">ANGPT1</text>
<text class="s" x="1406.8" y="203.4" font-size="10.6" fill="#000" stroke="#000" stroke-width="0.4" text-anchor="middle" textLength="31.3" lengthAdjust="spacingAndGlyphs">LAMB1</text>
<text class="s" x="1428.7" y="278.0" font-size="10.6" fill="#000" stroke="#000" stroke-width="0.4" text-anchor="middle" textLength="31.8" lengthAdjust="spacingAndGlyphs">LAMC1</text>
<text class="s" x="1428.7" y="355.7" font-size="10.6" fill="#000" stroke="#000" stroke-width="0.4" text-anchor="middle" textLength="36.6" lengthAdjust="spacingAndGlyphs">COL1A2</text>
<text class="s" x="1406.8" y="430.2" font-size="10.6" fill="#000" stroke="#000" stroke-width="0.4" text-anchor="middle" textLength="39.2" lengthAdjust="spacingAndGlyphs">PCOLCE</text>
<text class="s" x="1364.8" y="495.6" font-size="10.6" fill="#000" stroke="#000" stroke-width="0.4" text-anchor="middle" textLength="28.1" lengthAdjust="spacingAndGlyphs">FMOD</text>
<text class="s" x="1306.1" y="546.5" font-size="10.6" fill="#000" stroke="#000" stroke-width="0.4" text-anchor="middle" textLength="30.7" lengthAdjust="spacingAndGlyphs">TGFB3</text>
<text class="s" x="1235.4" y="578.8" font-size="10.6" fill="#000" stroke="#000" stroke-width="0.4" text-anchor="middle" textLength="24.4" lengthAdjust="spacingAndGlyphs">SPP1</text>
<text class="s" x="1158.5" y="589.8" font-size="10.6" fill="#000" stroke="#000" stroke-width="0.4" text-anchor="middle" textLength="31.8" lengthAdjust="spacingAndGlyphs">GSK3B</text>
<text class="s" x="1081.6" y="578.8" font-size="10.6" fill="#000" stroke="#000" stroke-width="0.4" text-anchor="middle" textLength="25.4" lengthAdjust="spacingAndGlyphs">EDN1</text>
<text class="s" x="1010.9" y="546.5" font-size="10.6" fill="#000" stroke="#000" stroke-width="0.4" text-anchor="middle" textLength="29.7" lengthAdjust="spacingAndGlyphs">FGF22</text>
<text class="s" x="952.2" y="495.6" font-size="10.6" fill="#000" stroke="#000" stroke-width="0.4" text-anchor="middle" textLength="18.0" lengthAdjust="spacingAndGlyphs">FN1</text>
<text class="s" x="910.2" y="430.2" font-size="10.6" fill="#000" stroke="#000" stroke-width="0.4" text-anchor="middle" textLength="32.9" lengthAdjust="spacingAndGlyphs">SMAD3</text>
<text class="s" x="888.3" y="355.7" font-size="10.6" fill="#000" stroke="#000" stroke-width="0.4" text-anchor="middle" textLength="19.1" lengthAdjust="spacingAndGlyphs">LOX</text>
<text class="s" x="888.3" y="278.0" font-size="10.6" fill="#000" stroke="#000" stroke-width="0.4" text-anchor="middle" textLength="18.0" lengthAdjust="spacingAndGlyphs">LEP</text>
<text class="s" x="910.2" y="203.4" font-size="10.6" fill="#000" stroke="#000" stroke-width="0.4" text-anchor="middle" textLength="36.6" lengthAdjust="spacingAndGlyphs">COL6A1</text>
<text class="s" x="952.2" y="138.0" font-size="10.6" fill="#000" stroke="#000" stroke-width="0.4" text-anchor="middle" textLength="24.4" lengthAdjust="spacingAndGlyphs">NT5E</text>
<text class="s" x="1010.9" y="87.2" font-size="10.6" fill="#000" stroke="#000" stroke-width="0.4" text-anchor="middle" textLength="21.6" lengthAdjust="spacingAndGlyphs">FLT1</text>
<text class="s" x="1081.6" y="54.9" font-size="10.6" fill="#000" stroke="#000" stroke-width="0.4" text-anchor="middle" textLength="24.4" lengthAdjust="spacingAndGlyphs">CSF1</text>
</g>
<g stroke="#8a8a8a" stroke-width="1.2" stroke-opacity="0.33" fill="none">
<path d="M1719.6 438.1L1692.9 269.5"/>
<path d="M1719.6 438.1L1922.5 39.9"/>
<path d="M1719.6 438.1L1719.6 187.3"/>
<path d="M1719.6 438.1L1703.0 227.3"/>
<path d="M1719.6 438.1L2189.2 475.0"/>
<path d="M1719.6 438.1L1742.2 475.0"/>
<path d="M1719.6 438.1L1692.9 355.9"/>
<path d="M1719.6 438.1L2128.0 536.2"/>
<path d="M1719.6 438.1L2161.0 508.0"/>
<path d="M1719.6 438.1L1703.0 398.1"/>
<path d="M1719.6 438.1L1880.3 50.0"/>
<path d="M1719.6 438.1L2008.9 39.9"/>
<path d="M1719.6 438.1L2091.1 66.6"/>
<path d="M1719.6 438.1L2189.2 150.4"/>
<path d="M1719.6 438.1L1965.7 36.5"/>
<path d="M1719.6 438.1L1742.2 150.4"/>
<path d="M1719.6 438.1L1770.4 508.0"/>
<path d="M1719.6 438.1L1689.5 312.7"/>
<path d="M1719.6 438.1L1803.4 89.2"/>
<path d="M1719.6 438.1L1840.3 66.6"/>
<path d="M1719.6 438.1L2238.5 269.5"/>
<path d="M1719.6 438.1L2051.1 50.0"/>
<path d="M1719.6 438.1L2211.8 438.1"/>
<path d="M1719.6 438.1L2008.9 585.5"/>
<path d="M1719.6 438.1L2161.0 117.4"/>
<path d="M1719.6 438.1L2051.1 575.4"/>
<path d="M1719.6 438.1L2091.1 558.8"/>
<path d="M1692.9 269.5L2189.2 475.0"/>
<path d="M1692.9 269.5L1742.2 475.0"/>
<path d="M1692.9 269.5L2008.9 585.5"/>
<path d="M1922.5 39.9L2128.0 89.2"/>
<path d="M1922.5 39.9L2228.4 398.1"/>
<path d="M1922.5 39.9L2228.4 227.3"/>
<path d="M1922.5 39.9L2008.9 39.9"/>
<path d="M1922.5 39.9L2091.1 66.6"/>
<path d="M1922.5 39.9L1965.7 36.5"/>
<path d="M1922.5 39.9L2238.5 355.9"/>
<path d="M1922.5 39.9L2241.9 312.7"/>
<path d="M1922.5 39.9L2051.1 50.0"/>
<path d="M1922.5 39.9L2161.0 117.4"/>
<path d="M2128.0 89.2L2228.4 398.1"/>
<path d="M2128.0 89.2L2228.4 227.3"/>
<path d="M2128.0 89.2L2189.2 150.4"/>
<path d="M2128.0 89.2L2211.8 187.3"/>
<path d="M2128.0 89.2L2241.9 312.7"/>
<path d="M2128.0 89.2L2238.5 269.5"/>
<path d="M1719.6 187.3L1703.0 227.3"/>
<path d="M1719.6 187.3L1703.0 398.1"/>
<path d="M1719.6 187.3L1742.2 150.4"/>
<path d="M1703.0 227.3L1742.2 475.0"/>
<path d="M1703.0 227.3L1742.2 150.4"/>
<path d="M1703.0 227.3L1803.4 89.2"/>
<path d="M2189.2 475.0L1742.2 475.0"/>
<path d="M2189.2 475.0L1692.9 355.9"/>
<path d="M2189.2 475.0L2128.0 536.2"/>
<path d="M2189.2 475.0L2161.0 508.0"/>
<path d="M2189.2 475.0L1703.0 398.1"/>
<path d="M2189.2 475.0L1880.3 50.0"/>
<path d="M2189.2 475.0L1770.4 508.0"/>
<path d="M2189.2 475.0L1689.5 312.7"/>
<path d="M2189.2 475.0L1803.4 89.2"/>
<path d="M2189.2 475.0L1840.3 66.6"/>
<path d="M2189.2 475.0L2211.8 438.1"/>
<path d="M2189.2 475.0L2008.9 585.5"/>
<path d="M2189.2 475.0L2051.1 575.4"/>
<path d="M2189.2 475.0L2091.1 558.8"/>
<path d="M1742.2 475.0L2128.0 536.2"/>
<path d="M1742.2 475.0L2161.0 508.0"/>
<path d="M1742.2 475.0L1770.4 508.0"/>
<path d="M1742.2 475.0L1840.3 66.6"/>
<path d="M1742.2 475.0L2051.1 50.0"/>
<path d="M1742.2 475.0L2211.8 438.1"/>
<path d="M1742.2 475.0L2008.9 585.5"/>
<path d="M1742.2 475.0L2051.1 575.4"/>
<path d="M1742.2 475.0L2091.1 558.8"/>
<path d="M1770.4 117.4L1742.2 150.4"/>
<path d="M1770.4 117.4L1803.4 89.2"/>
<path d="M1692.9 355.9L2128.0 536.2"/>
<path d="M1692.9 355.9L2091.1 66.6"/>
<path d="M1692.9 355.9L1840.3 66.6"/>
<path d="M1692.9 355.9L2008.9 585.5"/>
<path d="M1692.9 355.9L2051.1 575.4"/>
<path d="M2128.0 536.2L2161.0 508.0"/>
<path d="M2128.0 536.2L1703.0 398.1"/>
<path d="M2128.0 536.2L1770.4 508.0"/>
<path d="M2128.0 536.2L1689.5 312.7"/>
<path d="M2128.0 536.2L2051.1 575.4"/>
<path d="M2128.0 536.2L2091.1 558.8"/>
<path d="M2161.0 508.0L1770.4 508.0"/>
<path d="M2161.0 508.0L2008.9 585.5"/>
<path d="M2161.0 508.0L2051.1 575.4"/>
<path d="M2161.0 508.0L2091.1 558.8"/>
<path d="M1703.0 398.1L1880.3 50.0"/>
<path d="M1703.0 398.1L2091.1 66.6"/>
<path d="M1703.0 398.1L1840.3 66.6"/>
<path d="M1703.0 398.1L2008.9 585.5"/>
<path d="M1703.0 398.1L2051.1 575.4"/>
<path d="M2228.4 398.1L2228.4 227.3"/>
<path d="M2228.4 398.1L1880.3 50.0"/>
<path d="M2228.4 398.1L2008.9 39.9"/>
<path d="M2228.4 398.1L2091.1 66.6"/>
<path d="M2228.4 398.1L2189.2 150.4"/>
<path d="M2228.4 398.1L1965.7 36.5"/>
<path d="M2228.4 398.1L1689.5 312.7"/>
<path d="M2228.4 398.1L2238.5 355.9"/>
<path d="M2228.4 398.1L2211.8 187.3"/>
<path d="M2228.4 398.1L2241.9 312.7"/>
<path d="M2228.4 398.1L2238.5 269.5"/>
<path d="M2228.4 398.1L2051.1 50.0"/>
<path d="M2228.4 398.1L2211.8 438.1"/>
<path d="M2228.4 398.1L2161.0 117.4"/>
<path d="M2228.4 227.3L2241.9 312.7"/>
<path d="M2228.4 227.3L2238.5 269.5"/>
<path d="M1880.3 50.0L2189.2 150.4"/>
<path d="M1880.3 50.0L2238.5 355.9"/>
<path d="M1880.3 50.0L2241.9 312.7"/>
<path d="M1880.3 50.0L2211.8 438.1"/>
<path d="M1880.3 50.0L2161.0 117.4"/>
<path d="M2008.9 39.9L2228.4 227.3"/>
<path d="M2008.9 39.9L2238.5 355.9"/>
<path d="M2008.9 39.9L2211.8 187.3"/>
<path d="M2008.9 39.9L2241.9 312.7"/>
<path d="M2008.9 39.9L2238.5 269.5"/>
<path d="M2008.9 39.9L2051.1 50.0"/>
<path d="M2091.1 66.6L2128.0 89.2"/>
<path d="M2091.1 66.6L2228.4 227.3"/>
<path d="M2091.1 66.6L2189.2 150.4"/>
<path d="M2091.1 66.6L2238.5 355.9"/>
<path d="M2091.1 66.6L1880.3 575.4"/>
<path d="M2189.2 150.4L2211.8 187.3"/>
<path d="M2189.2 150.4L2238.5 269.5"/>
<path d="M1965.7 36.5L2128.0 89.2"/>
<path d="M1965.7 36.5L2228.4 227.3"/>
<path d="M1965.7 36.5L2008.9 39.9"/>
<path d="M1965.7 36.5L2241.9 312.7"/>
<path d="M1965.7 36.5L2051.1 50.0"/>
<path d="M1965.7 36.5L2161.0 117.4"/>
<path d="M1770.4 508.0L2211.8 438.1"/>
<path d="M1770.4 508.0L2008.9 585.5"/>
<path d="M1770.4 508.0L2161.0 117.4"/>
<path d="M1770.4 508.0L2051.1 575.4"/>
<path d="M1770.4 508.0L2091.1 558.8"/>
<path d="M1689.5 312.7L2008.9 585.5"/>
<path d="M1689.5 312.7L2051.1 575.4"/>
<path d="M1803.4 89.2L1840.3 66.6"/>
<path d="M1840.3 66.6L2211.8 438.1"/>
<path d="M2211.8 187.3L2238.5 355.9"/>
<path d="M2211.8 187.3L2238.5 269.5"/>
<path d="M1922.5 585.5L1803.4 536.2"/>
<path d="M1922.5 585.5L1880.3 575.4"/>
<path d="M1922.5 585.5L1965.7 588.9"/>
<path d="M2241.9 312.7L2238.5 355.9"/>
<path d="M1803.4 536.2L1840.3 558.8"/>
<path d="M1803.4 536.2L1965.7 588.9"/>
<path d="M2238.5 269.5L2241.9 312.7"/>
<path d="M1880.3 575.4L1840.3 558.8"/>
<path d="M1880.3 575.4L1965.7 588.9"/>
<path d="M1965.7 588.9L2008.9 585.5"/>
<path d="M2051.1 50.0L2128.0 89.2"/>
<path d="M2051.1 50.0L2228.4 227.3"/>
<path d="M2051.1 50.0L2091.1 66.6"/>
<path d="M2051.1 50.0L2238.5 355.9"/>
<path d="M2051.1 50.0L2211.8 187.3"/>
<path d="M2051.1 50.0L2241.9 312.7"/>
<path d="M2051.1 50.0L2161.0 117.4"/>
<path d="M2008.9 585.5L2051.1 575.4"/>
<path d="M2161.0 117.4L2189.2 150.4"/>
<path d="M2161.0 117.4L2238.5 355.9"/>
<path d="M2161.0 117.4L2241.9 312.7"/>
<path d="M2051.1 575.4L2091.1 558.8"/>
</g>
<g>
<rect x="1948.8" y="28.6" width="33.9" height="15.7" rx="2.5" fill="#d5b9dc"/>
<rect x="1992.0" y="32.1" width="33.9" height="15.7" rx="2.5" fill="#d5b9dc"/>
<rect x="2034.1" y="42.2" width="33.9" height="15.7" rx="2.5" fill="#d5b9dc"/>
<rect x="2074.1" y="58.8" width="33.9" height="15.7" rx="2.5" fill="#d5b9dc"/>
<rect x="2111.1" y="81.4" width="33.9" height="15.7" rx="2.5" fill="#d5b9dc"/>
<rect x="2144.1" y="109.5" width="33.9" height="15.7" rx="2.5" fill="#d5b9dc"/>
<rect x="2172.2" y="142.5" width="33.9" height="15.7" rx="2.5" fill="#d5b9dc"/>
<rect x="2194.8" y="179.5" width="33.9" height="15.7" rx="2.5" fill="#d5b9dc"/>
<rect x="2211.4" y="219.5" width="33.9" height="15.7" rx="2.5" fill="#d5b9dc"/>
<rect x="2221.5" y="261.6" width="33.9" height="15.7" rx="2.5" fill="#d5b9dc"/>
<rect x="2225.0" y="304.8" width="33.9" height="15.7" rx="2.5" fill="#d5b9dc"/>
<rect x="2221.5" y="348.1" width="33.9" height="15.7" rx="2.5" fill="#d5b9dc"/>
<rect x="2211.4" y="390.2" width="33.9" height="15.7" rx="2.5" fill="#d5b9dc"/>
<rect x="2194.8" y="430.2" width="33.9" height="15.7" rx="2.5" fill="#d5b9dc"/>
<rect x="2172.2" y="467.2" width="33.9" height="15.7" rx="2.5" fill="#d5b9dc"/>
<rect x="2144.1" y="500.2" width="33.9" height="15.7" rx="2.5" fill="#d5b9dc"/>
<rect x="2111.1" y="528.3" width="33.9" height="15.7" rx="2.5" fill="#d5b9dc"/>
<rect x="2074.1" y="550.9" width="33.9" height="15.7" rx="2.5" fill="#d5b9dc"/>
<rect x="2034.1" y="567.5" width="33.9" height="15.7" rx="2.5" fill="#d5b9dc"/>
<rect x="1992.0" y="577.6" width="33.9" height="15.7" rx="2.5" fill="#d5b9dc"/>
<rect x="1948.8" y="581.0" width="33.9" height="15.7" rx="2.5" fill="#d5b9dc"/>
<rect x="1905.5" y="577.6" width="33.9" height="15.7" rx="2.5" fill="#d5b9dc"/>
<rect x="1863.4" y="567.5" width="33.9" height="15.7" rx="2.5" fill="#d5b9dc"/>
<rect x="1823.4" y="550.9" width="33.9" height="15.7" rx="2.5" fill="#d5b9dc"/>
<rect x="1786.4" y="528.3" width="33.9" height="15.7" rx="2.5" fill="#d5b9dc"/>
<rect x="1753.4" y="500.2" width="33.9" height="15.7" rx="2.5" fill="#d5b9dc"/>
<rect x="1725.3" y="467.2" width="33.9" height="15.7" rx="2.5" fill="#d5b9dc"/>
<rect x="1702.7" y="430.2" width="33.9" height="15.7" rx="2.5" fill="#d5b9dc"/>
<rect x="1686.1" y="390.2" width="33.9" height="15.7" rx="2.5" fill="#d5b9dc"/>
<rect x="1676.0" y="348.1" width="33.9" height="15.7" rx="2.5" fill="#d5b9dc"/>
<rect x="1672.5" y="304.9" width="33.9" height="15.7" rx="2.5" fill="#d5b9dc"/>
<rect x="1676.0" y="261.6" width="33.9" height="15.7" rx="2.5" fill="#d5b9dc"/>
<rect x="1686.1" y="219.5" width="33.9" height="15.7" rx="2.5" fill="#d5b9dc"/>
<rect x="1702.7" y="179.5" width="33.9" height="15.7" rx="2.5" fill="#d5b9dc"/>
<rect x="1725.3" y="142.5" width="33.9" height="15.7" rx="2.5" fill="#d5b9dc"/>
<rect x="1753.4" y="109.5" width="33.9" height="15.7" rx="2.5" fill="#d5b9dc"/>
<rect x="1786.4" y="81.4" width="33.9" height="15.7" rx="2.5" fill="#d5b9dc"/>
<rect x="1823.4" y="58.8" width="33.9" height="15.7" rx="2.5" fill="#d5b9dc"/>
<rect x="1863.4" y="42.2" width="33.9" height="15.7" rx="2.5" fill="#d5b9dc"/>
<rect x="1905.5" y="32.1" width="33.9" height="15.7" rx="2.5" fill="#d5b9dc"/>
<text class="s" x="1965.7" y="39.0" font-size="7.0" fill="#000" stroke="#000" stroke-width="0.25" text-anchor="middle" textLength="17.0" lengthAdjust="spacingAndGlyphs">H4C6</text>
<text class="s" x="2008.9" y="42.4" font-size="7.0" fill="#000" stroke="#000" stroke-width="0.25" text-anchor="middle" textLength="21.4" lengthAdjust="spacingAndGlyphs">H2AC7</text>
<text class="s" x="2051.1" y="52.5" font-size="7.0" fill="#000" stroke="#000" stroke-width="0.25" text-anchor="middle" textLength="19.2" lengthAdjust="spacingAndGlyphs">SIN3B</text>
<text class="s" x="2091.1" y="69.1" font-size="7.0" fill="#000" stroke="#000" stroke-width="0.25" text-anchor="middle" textLength="16.3" lengthAdjust="spacingAndGlyphs">H2AJ</text>
<text class="s" x="2128.0" y="91.8" font-size="7.0" fill="#000" stroke="#000" stroke-width="0.25" text-anchor="middle" textLength="20.3" lengthAdjust="spacingAndGlyphs">BCL9L</text>
<text class="s" x="2161.0" y="119.9" font-size="7.0" fill="#000" stroke="#000" stroke-width="0.25" text-anchor="middle" textLength="20.6" lengthAdjust="spacingAndGlyphs">TAF1C</text>
<text class="s" x="2189.2" y="152.9" font-size="7.0" fill="#000" stroke="#000" stroke-width="0.25" text-anchor="middle" textLength="21.4" lengthAdjust="spacingAndGlyphs">H2BC9</text>
<text class="s" x="2211.8" y="189.8" font-size="7.0" fill="#000" stroke="#000" stroke-width="0.25" text-anchor="middle" textLength="22.2" lengthAdjust="spacingAndGlyphs">KMT5A</text>
<text class="s" x="2228.4" y="229.9" font-size="7.0" fill="#000" stroke="#000" stroke-width="0.25" text-anchor="middle" textLength="25.1" lengthAdjust="spacingAndGlyphs">H2AC13</text>
<text class="s" x="2238.5" y="272.0" font-size="7.0" fill="#000" stroke="#000" stroke-width="0.25" text-anchor="middle" textLength="26.2" lengthAdjust="spacingAndGlyphs">POLR2A</text>
<text class="s" x="2241.9" y="315.2" font-size="7.0" fill="#000" stroke="#000" stroke-width="0.25" text-anchor="middle" textLength="18.8" lengthAdjust="spacingAndGlyphs">MDC1</text>
<text class="s" x="2238.5" y="358.4" font-size="7.0" fill="#000" stroke="#000" stroke-width="0.25" text-anchor="middle" textLength="22.2" lengthAdjust="spacingAndGlyphs">KMT2A</text>
<text class="s" x="2228.4" y="400.6" font-size="7.0" fill="#000" stroke="#000" stroke-width="0.25" text-anchor="middle" textLength="22.2" lengthAdjust="spacingAndGlyphs">GP1BA</text>
<text class="s" x="2211.8" y="440.6" font-size="7.0" fill="#000" stroke="#000" stroke-width="0.25" text-anchor="middle" textLength="13.7" lengthAdjust="spacingAndGlyphs">SPN</text>
<text class="s" x="2189.2" y="477.6" font-size="7.0" fill="#000" stroke="#000" stroke-width="0.25" text-anchor="middle" textLength="13.3" lengthAdjust="spacingAndGlyphs">CD4</text>
<text class="s" x="2161.0" y="510.5" font-size="7.0" fill="#000" stroke="#000" stroke-width="0.25" text-anchor="middle" textLength="21.4" lengthAdjust="spacingAndGlyphs">CXCL5</text>
<text class="s" x="2128.0" y="538.7" font-size="7.0" fill="#000" stroke="#000" stroke-width="0.25" text-anchor="middle" textLength="21.4" lengthAdjust="spacingAndGlyphs">CXCL2</text>
<text class="s" x="2091.1" y="561.3" font-size="7.0" fill="#000" stroke="#000" stroke-width="0.25" text-anchor="middle" textLength="28.8" lengthAdjust="spacingAndGlyphs">TNFSF10</text>
<text class="s" x="2051.1" y="577.9" font-size="7.0" fill="#000" stroke="#000" stroke-width="0.25" text-anchor="middle" textLength="16.3" lengthAdjust="spacingAndGlyphs">TLR3</text>
<text class="s" x="2008.9" y="588.0" font-size="7.0" fill="#000" stroke="#000" stroke-width="0.25" text-anchor="middle" textLength="24.1" lengthAdjust="spacingAndGlyphs">STAT5B</text>
<text class="s" x="1965.7" y="591.4" font-size="7.0" fill="#000" stroke="#000" stroke-width="0.25" text-anchor="middle" textLength="22.2" lengthAdjust="spacingAndGlyphs">RARS1</text>
<text class="s" x="1922.5" y="588.0" font-size="7.0" fill="#000" stroke="#000" stroke-width="0.25" text-anchor="middle" textLength="22.9" lengthAdjust="spacingAndGlyphs">MARS1</text>
<text class="s" x="1880.3" y="577.9" font-size="7.0" fill="#000" stroke="#000" stroke-width="0.25" text-anchor="middle" textLength="26.2" lengthAdjust="spacingAndGlyphs">POLR3A</text>
<text class="s" x="1840.3" y="561.3" font-size="7.0" fill="#000" stroke="#000" stroke-width="0.25" text-anchor="middle" textLength="22.9" lengthAdjust="spacingAndGlyphs">PSMC4</text>
<text class="s" x="1803.4" y="538.7" font-size="7.0" fill="#000" stroke="#000" stroke-width="0.25" text-anchor="middle" textLength="25.9" lengthAdjust="spacingAndGlyphs">MRPL27</text>
<text class="s" x="1770.4" y="510.5" font-size="7.0" fill="#000" stroke="#000" stroke-width="0.25" text-anchor="middle" textLength="9.2" lengthAdjust="spacingAndGlyphs">IL7</text>
<text class="s" x="1742.2" y="477.6" font-size="7.0" fill="#000" stroke="#000" stroke-width="0.25" text-anchor="middle" textLength="17.0" lengthAdjust="spacingAndGlyphs">CD86</text>
<text class="s" x="1719.6" y="440.6" font-size="7.0" fill="#000" stroke="#000" stroke-width="0.25" text-anchor="middle" textLength="17.7" lengthAdjust="spacingAndGlyphs">ACTB</text>
<text class="s" x="1703.0" y="400.6" font-size="7.0" fill="#000" stroke="#000" stroke-width="0.25" text-anchor="middle" textLength="23.6" lengthAdjust="spacingAndGlyphs">EPCAM</text>
<text class="s" x="1692.9" y="358.4" font-size="7.0" fill="#000" stroke="#000" stroke-width="0.25" text-anchor="middle" textLength="21.8" lengthAdjust="spacingAndGlyphs">CSF3R</text>
<text class="s" x="1689.5" y="315.2" font-size="7.0" fill="#000" stroke="#000" stroke-width="0.25" text-anchor="middle" textLength="14.4" lengthAdjust="spacingAndGlyphs">IRF5</text>
<text class="s" x="1692.9" y="272.0" font-size="7.0" fill="#000" stroke="#000" stroke-width="0.25" text-anchor="middle" textLength="26.6" lengthAdjust="spacingAndGlyphs">ADAM17</text>
<text class="s" x="1703.0" y="229.9" font-size="7.0" fill="#000" stroke="#000" stroke-width="0.25" text-anchor="middle" textLength="18.1" lengthAdjust="spacingAndGlyphs">BMP6</text>
<text class="s" x="1719.6" y="189.8" font-size="7.0" fill="#000" stroke="#000" stroke-width="0.25" text-anchor="middle" textLength="18.1" lengthAdjust="spacingAndGlyphs">BMP4</text>
<text class="s" x="1742.2" y="152.9" font-size="7.0" fill="#000" stroke="#000" stroke-width="0.25" text-anchor="middle" textLength="15.2" lengthAdjust="spacingAndGlyphs">IBSP</text>
<text class="s" x="1770.4" y="119.9" font-size="7.0" fill="#000" stroke="#000" stroke-width="0.25" text-anchor="middle" textLength="20.0" lengthAdjust="spacingAndGlyphs">COMP</text>
<text class="s" x="1803.4" y="91.8" font-size="7.0" fill="#000" stroke="#000" stroke-width="0.25" text-anchor="middle" textLength="19.2" lengthAdjust="spacingAndGlyphs">ITGA9</text>
<text class="s" x="1840.3" y="69.1" font-size="7.0" fill="#000" stroke="#000" stroke-width="0.25" text-anchor="middle" textLength="19.2" lengthAdjust="spacingAndGlyphs">ITGB2</text>
<text class="s" x="1880.3" y="52.5" font-size="7.0" fill="#000" stroke="#000" stroke-width="0.25" text-anchor="middle" textLength="25.1" lengthAdjust="spacingAndGlyphs">H2AC18</text>
<text class="s" x="1922.5" y="42.4" font-size="7.0" fill="#000" stroke="#000" stroke-width="0.25" text-anchor="middle" textLength="21.1" lengthAdjust="spacingAndGlyphs">ASH2L</text>
</g>
<text class="s" x="284.6" y="674.4" font-size="33.5" textLength="131.0" lengthAdjust="spacingAndGlyphs">Cluster 1</text>
<text class="s" x="1127.4" y="674.4" font-size="33.5" textLength="131.0" lengthAdjust="spacingAndGlyphs">Cluster 2</text>
<text class="s" x="1942.6" y="674.4" font-size="33.5" textLength="131.0" lengthAdjust="spacingAndGlyphs">Cluster 3</text>
<rect x="278.3" y="821.3" width="782.7" height="249.1" fill="#fff"/>
<line x1="421.4" y1="821.3" x2="421.4" y2="1070.4" stroke="#f2f2f2" stroke-width="1.1"/>
<line x1="637.2" y1="821.3" x2="637.2" y2="1070.4" stroke="#f2f2f2" stroke-width="1.1"/>
<line x1="853.0" y1="821.3" x2="853.0" y2="1070.4" stroke="#f2f2f2" stroke-width="1.1"/>
<line x1="313.5" y1="821.3" x2="313.5" y2="1070.4" stroke="#ebebeb" stroke-width="2"/>
<line x1="529.3" y1="821.3" x2="529.3" y2="1070.4" stroke="#ebebeb" stroke-width="2"/>
<line x1="745.1" y1="821.3" x2="745.1" y2="1070.4" stroke="#ebebeb" stroke-width="2"/>
<line x1="960.9" y1="821.3" x2="960.9" y2="1070.4" stroke="#ebebeb" stroke-width="2"/>
<line x1="278.3" y1="850.1" x2="1061.0" y2="850.1" stroke="#ebebeb" stroke-width="2"/>
<line x1="278.3" y1="898.0" x2="1061.0" y2="898.0" stroke="#ebebeb" stroke-width="2"/>
<line x1="278.3" y1="945.9" x2="1061.0" y2="945.9" stroke="#ebebeb" stroke-width="2"/>
<line x1="278.3" y1="993.9" x2="1061.0" y2="993.9" stroke="#ebebeb" stroke-width="2"/>
<line x1="278.3" y1="1041.8" x2="1061.0" y2="1041.8" stroke="#ebebeb" stroke-width="2"/>
<rect x="313.5" y="828.5" width="453.2" height="43.1" fill="#e06663"/>
<line x1="273.3" y1="850.1" x2="278.3" y2="850.1" stroke="#333" stroke-width="1.1"/>
<text class="s" x="268.6" y="847.3" font-size="20.8" fill="#000" text-anchor="end" >extracellular matrix</text>
<text class="s" x="268.6" y="869.5" font-size="20.8" fill="#000" text-anchor="end" >organization</text>
<rect x="313.5" y="876.4" width="453.2" height="43.1" fill="#e06663"/>
<line x1="273.3" y1="898.0" x2="278.3" y2="898.0" stroke="#333" stroke-width="1.1"/>
<text class="s" x="268.6" y="895.2" font-size="20.8" fill="#000" text-anchor="end" >extracellular structure</text>
<text class="s" x="268.6" y="917.4" font-size="20.8" fill="#000" text-anchor="end" >organization</text>
<rect x="313.5" y="924.4" width="453.2" height="43.1" fill="#e06663"/>
<line x1="273.3" y1="945.9" x2="278.3" y2="945.9" stroke="#333" stroke-width="1.1"/>
<text class="s" x="268.6" y="943.1" font-size="20.8" fill="#000" text-anchor="end" >external encapsulating</text>
<text class="s" x="268.6" y="965.3" font-size="20.8" fill="#000" text-anchor="end" >structure organization</text>
<rect x="313.5" y="972.3" width="431.6" height="43.1" fill="#e06663"/>
<line x1="273.3" y1="993.9" x2="278.3" y2="993.9" stroke="#333" stroke-width="1.1"/>
<text class="s" x="268.6" y="1002.2" font-size="20.8" fill="#000" text-anchor="end" >leukocyte migration</text>
<rect x="313.5" y="1020.3" width="453.2" height="43.1" fill="#e06663"/>
<line x1="273.3" y1="1041.8" x2="278.3" y2="1041.8" stroke="#333" stroke-width="1.1"/>
<text class="s" x="268.6" y="1050.1" font-size="20.8" fill="#000" text-anchor="end" >chemotaxis</text>
<rect x="278.3" y="821.3" width="782.7" height="249.1" fill="none" stroke="#333" stroke-width="1.1"/>
<rect x="1061.0" y="821.3" width="30.0" height="249.1" fill="#d9d9d9" stroke="#333" stroke-width="1.1"/>
<text class="s" x="1076.0" y="945.9" font-size="17" fill="#1a1a1a" text-anchor="middle" transform="rotate(90 1076.0 945.9)" dy="5.9">BP</text>
<rect x="278.3" y="1080.5" width="782.7" height="249.5" fill="#fff"/>
<line x1="421.4" y1="1080.5" x2="421.4" y2="1330.0" stroke="#f2f2f2" stroke-width="1.1"/>
<line x1="637.2" y1="1080.5" x2="637.2" y2="1330.0" stroke="#f2f2f2" stroke-width="1.1"/>
<line x1="853.0" y1="1080.5" x2="853.0" y2="1330.0" stroke="#f2f2f2" stroke-width="1.1"/>
<line x1="313.5" y1="1080.5" x2="313.5" y2="1330.0" stroke="#ebebeb" stroke-width="2"/>
<line x1="529.3" y1="1080.5" x2="529.3" y2="1330.0" stroke="#ebebeb" stroke-width="2"/>
<line x1="745.1" y1="1080.5" x2="745.1" y2="1330.0" stroke="#ebebeb" stroke-width="2"/>
<line x1="960.9" y1="1080.5" x2="960.9" y2="1330.0" stroke="#ebebeb" stroke-width="2"/>
<line x1="278.3" y1="1109.3" x2="1061.0" y2="1109.3" stroke="#ebebeb" stroke-width="2"/>
<line x1="278.3" y1="1157.2" x2="1061.0" y2="1157.2" stroke="#ebebeb" stroke-width="2"/>
<line x1="278.3" y1="1205.1" x2="1061.0" y2="1205.1" stroke="#ebebeb" stroke-width="2"/>
<line x1="278.3" y1="1253.1" x2="1061.0" y2="1253.1" stroke="#ebebeb" stroke-width="2"/>
<line x1="278.3" y1="1301.0" x2="1061.0" y2="1301.0" stroke="#ebebeb" stroke-width="2"/>
<rect x="313.5" y="1087.7" width="712.1" height="43.1" fill="#e06663"/>
<line x1="273.3" y1="1109.3" x2="278.3" y2="1109.3" stroke="#333" stroke-width="1.1"/>
<text class="s" x="268.6" y="1106.5" font-size="20.8" fill="#000" text-anchor="end" >collagen−containing</text>
<text class="s" x="268.6" y="1128.7" font-size="20.8" fill="#000" text-anchor="end" >extracellular matrix</text>
<rect x="313.5" y="1135.6" width="517.9" height="43.1" fill="#e06663"/>
<line x1="273.3" y1="1157.2" x2="278.3" y2="1157.2" stroke="#333" stroke-width="1.1"/>
<text class="s" x="268.6" y="1165.5" font-size="20.8" fill="#000" text-anchor="end" >endoplasmic reticulum lumen</text>
<rect x="313.5" y="1183.6" width="280.5" height="43.1" fill="#e06663"/>
<line x1="273.3" y1="1205.1" x2="278.3" y2="1205.1" stroke="#333" stroke-width="1.1"/>
<text class="s" x="268.6" y="1213.4" font-size="20.8" fill="#000" text-anchor="end" >basement membrane</text>
<rect x="313.5" y="1231.5" width="215.8" height="43.1" fill="#e06663"/>
<line x1="273.3" y1="1253.1" x2="278.3" y2="1253.1" stroke="#333" stroke-width="1.1"/>
<text class="s" x="268.6" y="1261.4" font-size="20.8" fill="#000" text-anchor="end" >collagen trimer</text>
<rect x="313.5" y="1279.5" width="194.2" height="43.1" fill="#a0738d"/>
<line x1="273.3" y1="1301.0" x2="278.3" y2="1301.0" stroke="#333" stroke-width="1.1"/>
<text class="s" x="268.6" y="1309.3" font-size="20.8" fill="#000" text-anchor="end" >platelet alpha granule</text>
<rect x="278.3" y="1080.5" width="782.7" height="249.5" fill="none" stroke="#333" stroke-width="1.1"/>
<rect x="1061.0" y="1080.5" width="30.0" height="249.5" fill="#d9d9d9" stroke="#333" stroke-width="1.1"/>
<text class="s" x="1076.0" y="1205.2" font-size="17" fill="#1a1a1a" text-anchor="middle" transform="rotate(90 1076.0 1205.2)" dy="5.9">CC</text>
<rect x="278.3" y="1339.5" width="782.7" height="249.3" fill="#fff"/>
<line x1="421.4" y1="1339.5" x2="421.4" y2="1588.8" stroke="#f2f2f2" stroke-width="1.1"/>
<line x1="637.2" y1="1339.5" x2="637.2" y2="1588.8" stroke="#f2f2f2" stroke-width="1.1"/>
<line x1="853.0" y1="1339.5" x2="853.0" y2="1588.8" stroke="#f2f2f2" stroke-width="1.1"/>
<line x1="313.5" y1="1339.5" x2="313.5" y2="1588.8" stroke="#ebebeb" stroke-width="2"/>
<line x1="529.3" y1="1339.5" x2="529.3" y2="1588.8" stroke="#ebebeb" stroke-width="2"/>
<line x1="745.1" y1="1339.5" x2="745.1" y2="1588.8" stroke="#ebebeb" stroke-width="2"/>
<line x1="960.9" y1="1339.5" x2="960.9" y2="1588.8" stroke="#ebebeb" stroke-width="2"/>
<line x1="278.3" y1="1368.3" x2="1061.0" y2="1368.3" stroke="#ebebeb" stroke-width="2"/>
<line x1="278.3" y1="1416.2" x2="1061.0" y2="1416.2" stroke="#ebebeb" stroke-width="2"/>
<line x1="278.3" y1="1464.1" x2="1061.0" y2="1464.1" stroke="#ebebeb" stroke-width="2"/>
<line x1="278.3" y1="1512.1" x2="1061.0" y2="1512.1" stroke="#ebebeb" stroke-width="2"/>
<line x1="278.3" y1="1560.0" x2="1061.0" y2="1560.0" stroke="#ebebeb" stroke-width="2"/>
<rect x="313.5" y="1346.7" width="561.1" height="43.1" fill="#e06663"/>
<line x1="273.3" y1="1368.3" x2="278.3" y2="1368.3" stroke="#333" stroke-width="1.1"/>
<text class="s" x="268.6" y="1365.5" font-size="20.8" fill="#000" text-anchor="end" >extracellular matrix</text>
<text class="s" x="268.6" y="1387.7" font-size="20.8" fill="#000" text-anchor="end" >structural constituent</text>
<rect x="313.5" y="1394.6" width="194.2" height="43.1" fill="#e06663"/>
<line x1="273.3" y1="1416.2" x2="278.3" y2="1416.2" stroke="#333" stroke-width="1.1"/>
<text class="s" x="268.6" y="1402.3" font-size="20.8" fill="#000" text-anchor="end" >extracellular matrix</text>
<text class="s" x="268.6" y="1424.5" font-size="20.8" fill="#000" text-anchor="end" >structural constituent</text>
<text class="s" x="268.6" y="1446.7" font-size="20.8" fill="#000" text-anchor="end" >conferring tensile strength</text>
<rect x="313.5" y="1442.6" width="215.8" height="43.1" fill="#e06663"/>
<line x1="273.3" y1="1464.1" x2="278.3" y2="1464.1" stroke="#333" stroke-width="1.1"/>
<text class="s" x="268.6" y="1472.4" font-size="20.8" fill="#000" text-anchor="end" >collagen binding</text>
<rect x="313.5" y="1490.5" width="259.0" height="43.1" fill="#dc6767"/>
<line x1="273.3" y1="1512.1" x2="278.3" y2="1512.1" stroke="#333" stroke-width="1.1"/>
<text class="s" x="268.6" y="1520.4" font-size="20.8" fill="#000" text-anchor="end" >integrin binding</text>
<rect x="313.5" y="1538.5" width="237.4" height="43.1" fill="#327eba"/>
<line x1="273.3" y1="1560.0" x2="278.3" y2="1560.0" stroke="#333" stroke-width="1.1"/>
<text class="s" x="268.6" y="1568.3" font-size="20.8" fill="#000" text-anchor="end" >growth factor activity</text>
<rect x="278.3" y="1339.5" width="782.7" height="249.3" fill="none" stroke="#333" stroke-width="1.1"/>
<rect x="1061.0" y="1339.5" width="30.0" height="249.3" fill="#d9d9d9" stroke="#333" stroke-width="1.1"/>
<text class="s" x="1076.0" y="1464.2" font-size="17" fill="#1a1a1a" text-anchor="middle" transform="rotate(90 1076.0 1464.2)" dy="5.9">MF</text>
<line x1="313.5" y1="1588.8" x2="313.5" y2="1594" stroke="#333" stroke-width="1.1"/>
<text class="s" x="313.5" y="1613.0" font-size="19.0" fill="#000" text-anchor="middle" >0</text>
<line x1="529.3" y1="1588.8" x2="529.3" y2="1594" stroke="#333" stroke-width="1.1"/>
<text class="s" x="529.3" y="1613.0" font-size="19.0" fill="#000" text-anchor="middle" >10</text>
<line x1="745.1" y1="1588.8" x2="745.1" y2="1594" stroke="#333" stroke-width="1.1"/>
<text class="s" x="745.1" y="1613.0" font-size="19.0" fill="#000" text-anchor="middle" >20</text>
<line x1="960.9" y1="1588.8" x2="960.9" y2="1594" stroke="#333" stroke-width="1.1"/>
<text class="s" x="960.9" y="1613.0" font-size="19.0" fill="#000" text-anchor="middle" >30</text>
<text class="s" x="669.7" y="1638.0" font-size="20.5" fill="#000" text-anchor="middle" >Count</text>
<text class="s" x="1120.3" y="1133.0" font-size="18.5" fill="#000" text-anchor="start" >p.adjust</text>
<defs><linearGradient id="gB" x1="0" y1="0" x2="0" y2="1"><stop offset="0.00" stop-color="#e06663"/><stop offset="0.10" stop-color="#d56a6c"/><stop offset="0.20" stop-color="#ca6d74"/><stop offset="0.30" stop-color="#be707d"/><stop offset="0.40" stop-color="#b17386"/><stop offset="0.50" stop-color="#a3758e"/><stop offset="0.60" stop-color="#947797"/><stop offset="0.70" stop-color="#8479a0"/><stop offset="0.80" stop-color="#707ba8"/><stop offset="0.90" stop-color="#577db1"/><stop offset="1.00" stop-color="#327eba"/></linearGradient>
<linearGradient id="gC" x1="0" y1="0" x2="0" y2="1"><stop offset="0.00" stop-color="#ffa500"/><stop offset="0.10" stop-color="#f9a931"/><stop offset="0.20" stop-color="#f3ad4b"/><stop offset="0.30" stop-color="#ebb261"/><stop offset="0.40" stop-color="#e3b675"/><stop offset="0.50" stop-color="#d9ba89"/><stop offset="0.60" stop-color="#cebe9d"/><stop offset="0.70" stop-color="#c2c2b0"/><stop offset="0.80" stop-color="#b2c6c4"/><stop offset="0.90" stop-color="#9fcad7"/><stop offset="1.00" stop-color="#87ceeb"/></linearGradient></defs>
<rect x="1119.7" y="1144.7" width="29.6" height="149" fill="url(#gB)"/>
<line x1="1119.7" y1="1179.2" x2="1125.6" y2="1179.2" stroke="#fff" stroke-width="1.1"/>
<line x1="1143.4" y1="1179.2" x2="1149.3" y2="1179.2" stroke="#fff" stroke-width="1.1"/>
<text class="s" x="1159.2" y="1184.7" font-size="15.4" fill="#000" text-anchor="start" >2.5e−08</text>
<line x1="1119.7" y1="1213.7" x2="1125.6" y2="1213.7" stroke="#fff" stroke-width="1.1"/>
<line x1="1143.4" y1="1213.7" x2="1149.3" y2="1213.7" stroke="#fff" stroke-width="1.1"/>
<text class="s" x="1159.2" y="1219.2" font-size="15.4" fill="#000" text-anchor="start" >5.0e−08</text>
<line x1="1119.7" y1="1248.0" x2="1125.6" y2="1248.0" stroke="#fff" stroke-width="1.1"/>
<line x1="1143.4" y1="1248.0" x2="1149.3" y2="1248.0" stroke="#fff" stroke-width="1.1"/>
<text class="s" x="1159.2" y="1253.5" font-size="15.4" fill="#000" text-anchor="start" >7.5e−08</text>
<line x1="1119.7" y1="1282.5" x2="1125.6" y2="1282.5" stroke="#fff" stroke-width="1.1"/>
<line x1="1143.4" y1="1282.5" x2="1149.3" y2="1282.5" stroke="#fff" stroke-width="1.1"/>
<text class="s" x="1159.2" y="1288.0" font-size="15.4" fill="#000" text-anchor="start" >1.0e−07</text>
<text class="s" x="2058.5" y="807.4" font-size="22.3" fill="#000" text-anchor="middle" >KEGG Pathway Enrichment</text>
<rect x="1743.2" y="821.6" width="630.5" height="773.7" fill="#fff"/>
<line x1="1856.8" y1="821.6" x2="1856.8" y2="1595.3" stroke="#f0f0f0" stroke-width="1.1"/>
<line x1="2027.0" y1="821.6" x2="2027.0" y2="1595.3" stroke="#f0f0f0" stroke-width="1.1"/>
<line x1="2197.3" y1="821.6" x2="2197.3" y2="1595.3" stroke="#f0f0f0" stroke-width="1.1"/>
<line x1="2367.6" y1="821.6" x2="2367.6" y2="1595.3" stroke="#f0f0f0" stroke-width="1.1"/>
<line x1="1771.6" y1="821.6" x2="1771.6" y2="1595.3" stroke="#ebebeb" stroke-width="2"/>
<line x1="1941.9" y1="821.6" x2="1941.9" y2="1595.3" stroke="#ebebeb" stroke-width="2"/>
<line x1="2112.2" y1="821.6" x2="2112.2" y2="1595.3" stroke="#ebebeb" stroke-width="2"/>
<line x1="2282.5" y1="821.6" x2="2282.5" y2="1595.3" stroke="#ebebeb" stroke-width="2"/>
<line x1="1743.2" y1="867.1" x2="2373.7" y2="867.1" stroke="#ebebeb" stroke-width="2"/>
<line x1="1743.2" y1="943.0" x2="2373.7" y2="943.0" stroke="#ebebeb" stroke-width="2"/>
<line x1="1743.2" y1="1018.8" x2="2373.7" y2="1018.8" stroke="#ebebeb" stroke-width="2"/>
<line x1="1743.2" y1="1094.7" x2="2373.7" y2="1094.7" stroke="#ebebeb" stroke-width="2"/>
<line x1="1743.2" y1="1170.5" x2="2373.7" y2="1170.5" stroke="#ebebeb" stroke-width="2"/>
<line x1="1743.2" y1="1246.4" x2="2373.7" y2="1246.4" stroke="#ebebeb" stroke-width="2"/>
<line x1="1743.2" y1="1322.2" x2="2373.7" y2="1322.2" stroke="#ebebeb" stroke-width="2"/>
<line x1="1743.2" y1="1398.1" x2="2373.7" y2="1398.1" stroke="#ebebeb" stroke-width="2"/>
<line x1="1743.2" y1="1473.9" x2="2373.7" y2="1473.9" stroke="#ebebeb" stroke-width="2"/>
<line x1="1743.2" y1="1549.8" x2="2373.7" y2="1549.8" stroke="#ebebeb" stroke-width="2"/>
<rect x="1771.6" y="833.0" width="573.8" height="68.3" fill="#87ceeb"/>
<line x1="1738.6" y1="867.1" x2="1743.2" y2="867.1" stroke="#333" stroke-width="1.1"/>
<text class="s" x="1733.6" y="873.2" font-size="17.18" fill="#3d3d3d" text-anchor="end" >PI3K−Akt signaling pathway</text>
<rect x="1771.6" y="908.8" width="407.2" height="68.3" fill="#87ceeb"/>
<line x1="1738.6" y1="943.0" x2="1743.2" y2="943.0" stroke="#333" stroke-width="1.1"/>
<text class="s" x="1733.6" y="949.1" font-size="17.18" fill="#3d3d3d" text-anchor="end" >Focal adhesion</text>
<rect x="1771.6" y="984.7" width="296.2" height="68.3" fill="#87ceeb"/>
<line x1="1738.6" y1="1018.8" x2="1743.2" y2="1018.8" stroke="#333" stroke-width="1.1"/>
<text class="s" x="1733.6" y="1024.9" font-size="17.18" fill="#3d3d3d" text-anchor="end" >ECM−receptor interaction</text>
<rect x="1771.6" y="1060.5" width="388.7" height="68.3" fill="#87ceeb"/>
<line x1="1738.6" y1="1094.7" x2="1743.2" y2="1094.7" stroke="#333" stroke-width="1.1"/>
<text class="s" x="1733.6" y="1100.8" font-size="17.18" fill="#3d3d3d" text-anchor="end" >Human papillomavirus infection</text>
<rect x="1771.6" y="1136.4" width="222.1" height="68.3" fill="#87ceeb"/>
<line x1="1738.6" y1="1170.5" x2="1743.2" y2="1170.5" stroke="#333" stroke-width="1.1"/>
<text class="s" x="1733.6" y="1176.6" font-size="17.18" fill="#3d3d3d" text-anchor="end" >AGE−RAGE signaling pathway in diabetic complications</text>
<rect x="1771.6" y="1212.2" width="277.7" height="68.3" fill="#8acae6"/>
<line x1="1738.6" y1="1246.4" x2="1743.2" y2="1246.4" stroke="#333" stroke-width="1.1"/>
<text class="s" x="1733.6" y="1252.5" font-size="17.18" fill="#3d3d3d" text-anchor="end" >Cytoskeleton in muscle cells</text>
<rect x="1771.6" y="1288.1" width="185.1" height="68.3" fill="#a2c8d6"/>
<line x1="1738.6" y1="1322.2" x2="1743.2" y2="1322.2" stroke="#333" stroke-width="1.1"/>
<text class="s" x="1733.6" y="1328.3" font-size="17.18" fill="#3d3d3d" text-anchor="end" >Amoebiasis</text>
<rect x="1771.6" y="1363.9" width="185.1" height="68.3" fill="#c9c0a6"/>
<line x1="1738.6" y1="1398.1" x2="1743.2" y2="1398.1" stroke="#333" stroke-width="1.1"/>
<text class="s" x="1733.6" y="1404.2" font-size="17.18" fill="#3d3d3d" text-anchor="end" >TNF signaling pathway</text>
<rect x="1771.6" y="1439.8" width="166.6" height="68.3" fill="#d4b98e"/>
<line x1="1738.6" y1="1473.9" x2="1743.2" y2="1473.9" stroke="#333" stroke-width="1.1"/>
<text class="s" x="1733.6" y="1480.0" font-size="17.18" fill="#3d3d3d" text-anchor="end" >Rheumatoid arthritis</text>
<rect x="1771.6" y="1515.7" width="166.6" height="68.3" fill="#ffa500"/>
<line x1="1738.6" y1="1549.8" x2="1743.2" y2="1549.8" stroke="#333" stroke-width="1.1"/>
<text class="s" x="1733.6" y="1555.9" font-size="17.18" fill="#3d3d3d" text-anchor="end" >Protein digestion and absorption</text>
<rect x="1743.2" y="821.6" width="630.5" height="773.7" fill="none" stroke="#333" stroke-width="1.1"/>
<line x1="1771.6" y1="1595.3" x2="1771.6" y2="1599.9" stroke="#333" stroke-width="1.1"/>
<text class="s" x="1771.6" y="1616.6" font-size="15.6" fill="#3d3d3d" text-anchor="middle" >0.0</text>
<line x1="1941.9" y1="1595.3" x2="1941.9" y2="1599.9" stroke="#333" stroke-width="1.1"/>
<text class="s" x="1941.9" y="1616.6" font-size="15.6" fill="#3d3d3d" text-anchor="middle" >0.1</text>
<line x1="2112.2" y1="1595.3" x2="2112.2" y2="1599.9" stroke="#333" stroke-width="1.1"/>
<text class="s" x="2112.2" y="1616.6" font-size="15.6" fill="#3d3d3d" text-anchor="middle" >0.2</text>
<line x1="2282.5" y1="1595.3" x2="2282.5" y2="1599.9" stroke="#333" stroke-width="1.1"/>
<text class="s" x="2282.5" y="1616.6" font-size="15.6" fill="#3d3d3d" text-anchor="middle" >0.3</text>
<text class="s" x="2058.8" y="1637.8" font-size="19.3" fill="#000" text-anchor="middle" >Gene Ratio</text>
<text class="s" x="2403.3" y="1136.0" font-size="18.5" fill="#000" text-anchor="start" >p.adjust</text>
<rect x="2402.9" y="1147.8" width="29.8" height="149" fill="url(#gC)"/>
<line x1="2402.9" y1="1151.8" x2="2408.9" y2="1151.8" stroke="#fff" stroke-width="1.1"/>
<line x1="2426.7" y1="1151.8" x2="2432.7" y2="1151.8" stroke="#fff" stroke-width="1.1"/>
<text class="s" x="2443.0" y="1157.3" font-size="15.2" fill="#000" text-anchor="start" >1.6e−05</text>
<line x1="2402.9" y1="1188.1" x2="2408.9" y2="1188.1" stroke="#fff" stroke-width="1.1"/>
<line x1="2426.7" y1="1188.1" x2="2432.7" y2="1188.1" stroke="#fff" stroke-width="1.1"/>
<text class="s" x="2443.0" y="1193.6" font-size="15.2" fill="#000" text-anchor="start" >1.2e−05</text>
<line x1="2402.9" y1="1224.4" x2="2408.9" y2="1224.4" stroke="#fff" stroke-width="1.1"/>
<line x1="2426.7" y1="1224.4" x2="2432.7" y2="1224.4" stroke="#fff" stroke-width="1.1"/>
<text class="s" x="2443.0" y="1229.9" font-size="15.2" fill="#000" text-anchor="start" >8.0e−06</text>
<line x1="2402.9" y1="1260.5" x2="2408.9" y2="1260.5" stroke="#fff" stroke-width="1.1"/>
<line x1="2426.7" y1="1260.5" x2="2432.7" y2="1260.5" stroke="#fff" stroke-width="1.1"/>
<text class="s" x="2443.0" y="1266.0" font-size="15.2" fill="#000" text-anchor="start" >4.0e−06</text>
</svg></body></html>
